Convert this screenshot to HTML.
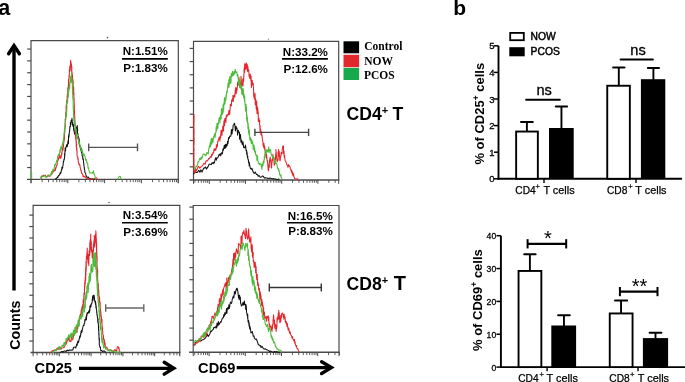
<!DOCTYPE html><html><head><meta charset="utf-8"><style>html,body{margin:0;padding:0;background:#fff;}svg{display:block;will-change:transform;}</style></head><body>
<svg width="685" height="382" viewBox="0 0 685 382">
<rect width="685" height="382" fill="#fff"/>
<text x="-1.7" y="14.6" font-family='"Liberation Sans", sans-serif' font-size="21.5" font-weight="bold" text-anchor="start" fill="#000" >a</text>
<text x="453.3" y="14.9" font-family='"Liberation Sans", sans-serif' font-size="21" font-weight="bold" text-anchor="start" fill="#000" >b</text>
<line x1="14" y1="47" x2="14" y2="290.5" stroke="#000" stroke-width="3.4" stroke-linecap="butt"/>
<path d="M8.6,53.8 L14,45.6 L19.4,53.8" fill="none" stroke="#000" stroke-width="3.4" stroke-linecap="round" stroke-linejoin="miter"/>
<text transform="translate(19.7,349.8) rotate(-90)" font-family='"Liberation Sans", sans-serif' font-size="14.3" font-weight="bold">Counts</text>
<path d="M31,179.4 L31,40.6 L178.3,40.6 L178.3,179.4" fill="none" stroke="#4a4a4a" stroke-width="1.2"/>
<line x1="27" y1="179.4" x2="178.9" y2="179.4" stroke="#4a4a4a" stroke-width="1.4" stroke-linecap="butt"/>
<line x1="27.2" y1="167.55" x2="31" y2="167.55" stroke="#4a4a4a" stroke-width="1.2" stroke-linecap="butt"/>
<line x1="27.2" y1="155.7" x2="31" y2="155.7" stroke="#4a4a4a" stroke-width="1.2" stroke-linecap="butt"/>
<line x1="27.2" y1="143.85" x2="31" y2="143.85" stroke="#4a4a4a" stroke-width="1.2" stroke-linecap="butt"/>
<line x1="27.2" y1="132" x2="31" y2="132" stroke="#4a4a4a" stroke-width="1.2" stroke-linecap="butt"/>
<line x1="27.2" y1="120.15" x2="31" y2="120.15" stroke="#4a4a4a" stroke-width="1.2" stroke-linecap="butt"/>
<line x1="27.2" y1="108.3" x2="31" y2="108.3" stroke="#4a4a4a" stroke-width="1.2" stroke-linecap="butt"/>
<line x1="27.2" y1="96.45" x2="31" y2="96.45" stroke="#4a4a4a" stroke-width="1.2" stroke-linecap="butt"/>
<line x1="27.2" y1="84.6" x2="31" y2="84.6" stroke="#4a4a4a" stroke-width="1.2" stroke-linecap="butt"/>
<line x1="27.2" y1="72.75" x2="31" y2="72.75" stroke="#4a4a4a" stroke-width="1.2" stroke-linecap="butt"/>
<line x1="27.2" y1="60.9" x2="31" y2="60.9" stroke="#4a4a4a" stroke-width="1.2" stroke-linecap="butt"/>
<line x1="27.2" y1="49.05" x2="31" y2="49.05" stroke="#4a4a4a" stroke-width="1.2" stroke-linecap="butt"/>
<line x1="31" y1="179.4" x2="31" y2="183.2" stroke="#4a4a4a" stroke-width="1.0" stroke-linecap="butt"/>
<line x1="42.08" y1="179.4" x2="42.08" y2="182.2" stroke="#4a4a4a" stroke-width="0.9" stroke-linecap="butt"/>
<line x1="48.56" y1="179.4" x2="48.56" y2="182.2" stroke="#4a4a4a" stroke-width="0.9" stroke-linecap="butt"/>
<line x1="53.16" y1="179.4" x2="53.16" y2="182.2" stroke="#4a4a4a" stroke-width="0.9" stroke-linecap="butt"/>
<line x1="56.72" y1="179.4" x2="56.72" y2="182.2" stroke="#4a4a4a" stroke-width="0.9" stroke-linecap="butt"/>
<line x1="59.64" y1="179.4" x2="59.64" y2="182.2" stroke="#4a4a4a" stroke-width="0.9" stroke-linecap="butt"/>
<line x1="62.1" y1="179.4" x2="62.1" y2="182.2" stroke="#4a4a4a" stroke-width="0.9" stroke-linecap="butt"/>
<line x1="64.23" y1="179.4" x2="64.23" y2="182.2" stroke="#4a4a4a" stroke-width="0.9" stroke-linecap="butt"/>
<line x1="66.12" y1="179.4" x2="66.12" y2="182.2" stroke="#4a4a4a" stroke-width="0.9" stroke-linecap="butt"/>
<line x1="67.8" y1="179.4" x2="67.8" y2="183.2" stroke="#4a4a4a" stroke-width="1.0" stroke-linecap="butt"/>
<line x1="78.88" y1="179.4" x2="78.88" y2="182.2" stroke="#4a4a4a" stroke-width="0.9" stroke-linecap="butt"/>
<line x1="85.36" y1="179.4" x2="85.36" y2="182.2" stroke="#4a4a4a" stroke-width="0.9" stroke-linecap="butt"/>
<line x1="89.96" y1="179.4" x2="89.96" y2="182.2" stroke="#4a4a4a" stroke-width="0.9" stroke-linecap="butt"/>
<line x1="93.52" y1="179.4" x2="93.52" y2="182.2" stroke="#4a4a4a" stroke-width="0.9" stroke-linecap="butt"/>
<line x1="96.44" y1="179.4" x2="96.44" y2="182.2" stroke="#4a4a4a" stroke-width="0.9" stroke-linecap="butt"/>
<line x1="98.9" y1="179.4" x2="98.9" y2="182.2" stroke="#4a4a4a" stroke-width="0.9" stroke-linecap="butt"/>
<line x1="101.03" y1="179.4" x2="101.03" y2="182.2" stroke="#4a4a4a" stroke-width="0.9" stroke-linecap="butt"/>
<line x1="102.92" y1="179.4" x2="102.92" y2="182.2" stroke="#4a4a4a" stroke-width="0.9" stroke-linecap="butt"/>
<line x1="104.6" y1="179.4" x2="104.6" y2="183.2" stroke="#4a4a4a" stroke-width="1.0" stroke-linecap="butt"/>
<line x1="115.68" y1="179.4" x2="115.68" y2="182.2" stroke="#4a4a4a" stroke-width="0.9" stroke-linecap="butt"/>
<line x1="122.16" y1="179.4" x2="122.16" y2="182.2" stroke="#4a4a4a" stroke-width="0.9" stroke-linecap="butt"/>
<line x1="126.76" y1="179.4" x2="126.76" y2="182.2" stroke="#4a4a4a" stroke-width="0.9" stroke-linecap="butt"/>
<line x1="130.32" y1="179.4" x2="130.32" y2="182.2" stroke="#4a4a4a" stroke-width="0.9" stroke-linecap="butt"/>
<line x1="133.24" y1="179.4" x2="133.24" y2="182.2" stroke="#4a4a4a" stroke-width="0.9" stroke-linecap="butt"/>
<line x1="135.7" y1="179.4" x2="135.7" y2="182.2" stroke="#4a4a4a" stroke-width="0.9" stroke-linecap="butt"/>
<line x1="137.83" y1="179.4" x2="137.83" y2="182.2" stroke="#4a4a4a" stroke-width="0.9" stroke-linecap="butt"/>
<line x1="139.72" y1="179.4" x2="139.72" y2="182.2" stroke="#4a4a4a" stroke-width="0.9" stroke-linecap="butt"/>
<line x1="141.4" y1="179.4" x2="141.4" y2="183.2" stroke="#4a4a4a" stroke-width="1.0" stroke-linecap="butt"/>
<line x1="152.48" y1="179.4" x2="152.48" y2="182.2" stroke="#4a4a4a" stroke-width="0.9" stroke-linecap="butt"/>
<line x1="158.96" y1="179.4" x2="158.96" y2="182.2" stroke="#4a4a4a" stroke-width="0.9" stroke-linecap="butt"/>
<line x1="163.56" y1="179.4" x2="163.56" y2="182.2" stroke="#4a4a4a" stroke-width="0.9" stroke-linecap="butt"/>
<line x1="167.12" y1="179.4" x2="167.12" y2="182.2" stroke="#4a4a4a" stroke-width="0.9" stroke-linecap="butt"/>
<line x1="170.04" y1="179.4" x2="170.04" y2="182.2" stroke="#4a4a4a" stroke-width="0.9" stroke-linecap="butt"/>
<line x1="172.5" y1="179.4" x2="172.5" y2="182.2" stroke="#4a4a4a" stroke-width="0.9" stroke-linecap="butt"/>
<line x1="174.63" y1="179.4" x2="174.63" y2="182.2" stroke="#4a4a4a" stroke-width="0.9" stroke-linecap="butt"/>
<line x1="176.52" y1="179.4" x2="176.52" y2="182.2" stroke="#4a4a4a" stroke-width="0.9" stroke-linecap="butt"/>
<line x1="178.2" y1="179.4" x2="178.2" y2="183.2" stroke="#4a4a4a" stroke-width="1.0" stroke-linecap="butt"/>
<line x1="178.3" y1="179.4" x2="178.3" y2="183.2" stroke="#4a4a4a" stroke-width="1.0" stroke-linecap="butt"/>
<line x1="31" y1="179.4" x2="31" y2="183.2" stroke="#4a4a4a" stroke-width="1.0" stroke-linecap="butt"/>
<path d="M193.5,180 L193.5,41.4 L338.7,41.4 L338.7,180" fill="none" stroke="#4a4a4a" stroke-width="1.2"/>
<line x1="189.5" y1="180" x2="339.3" y2="180" stroke="#4a4a4a" stroke-width="1.4" stroke-linecap="butt"/>
<line x1="189.7" y1="166.84" x2="193.5" y2="166.84" stroke="#4a4a4a" stroke-width="1.2" stroke-linecap="butt"/>
<line x1="189.7" y1="153.68" x2="193.5" y2="153.68" stroke="#4a4a4a" stroke-width="1.2" stroke-linecap="butt"/>
<line x1="189.7" y1="140.52" x2="193.5" y2="140.52" stroke="#4a4a4a" stroke-width="1.2" stroke-linecap="butt"/>
<line x1="189.7" y1="127.36" x2="193.5" y2="127.36" stroke="#4a4a4a" stroke-width="1.2" stroke-linecap="butt"/>
<line x1="189.7" y1="114.2" x2="193.5" y2="114.2" stroke="#4a4a4a" stroke-width="1.2" stroke-linecap="butt"/>
<line x1="189.7" y1="101.04" x2="193.5" y2="101.04" stroke="#4a4a4a" stroke-width="1.2" stroke-linecap="butt"/>
<line x1="189.7" y1="87.88" x2="193.5" y2="87.88" stroke="#4a4a4a" stroke-width="1.2" stroke-linecap="butt"/>
<line x1="189.7" y1="74.72" x2="193.5" y2="74.72" stroke="#4a4a4a" stroke-width="1.2" stroke-linecap="butt"/>
<line x1="189.7" y1="61.56" x2="193.5" y2="61.56" stroke="#4a4a4a" stroke-width="1.2" stroke-linecap="butt"/>
<line x1="189.7" y1="48.4" x2="193.5" y2="48.4" stroke="#4a4a4a" stroke-width="1.2" stroke-linecap="butt"/>
<line x1="194.89" y1="180" x2="194.89" y2="182.8" stroke="#4a4a4a" stroke-width="0.9" stroke-linecap="butt"/>
<line x1="198.4" y1="180" x2="198.4" y2="182.8" stroke="#4a4a4a" stroke-width="0.9" stroke-linecap="butt"/>
<line x1="201.27" y1="180" x2="201.27" y2="182.8" stroke="#4a4a4a" stroke-width="0.9" stroke-linecap="butt"/>
<line x1="203.69" y1="180" x2="203.69" y2="182.8" stroke="#4a4a4a" stroke-width="0.9" stroke-linecap="butt"/>
<line x1="205.79" y1="180" x2="205.79" y2="182.8" stroke="#4a4a4a" stroke-width="0.9" stroke-linecap="butt"/>
<line x1="207.64" y1="180" x2="207.64" y2="182.8" stroke="#4a4a4a" stroke-width="0.9" stroke-linecap="butt"/>
<line x1="209.3" y1="180" x2="209.3" y2="183.8" stroke="#4a4a4a" stroke-width="1.0" stroke-linecap="butt"/>
<line x1="220.2" y1="180" x2="220.2" y2="182.8" stroke="#4a4a4a" stroke-width="0.9" stroke-linecap="butt"/>
<line x1="226.57" y1="180" x2="226.57" y2="182.8" stroke="#4a4a4a" stroke-width="0.9" stroke-linecap="butt"/>
<line x1="231.09" y1="180" x2="231.09" y2="182.8" stroke="#4a4a4a" stroke-width="0.9" stroke-linecap="butt"/>
<line x1="234.6" y1="180" x2="234.6" y2="182.8" stroke="#4a4a4a" stroke-width="0.9" stroke-linecap="butt"/>
<line x1="237.47" y1="180" x2="237.47" y2="182.8" stroke="#4a4a4a" stroke-width="0.9" stroke-linecap="butt"/>
<line x1="239.89" y1="180" x2="239.89" y2="182.8" stroke="#4a4a4a" stroke-width="0.9" stroke-linecap="butt"/>
<line x1="241.99" y1="180" x2="241.99" y2="182.8" stroke="#4a4a4a" stroke-width="0.9" stroke-linecap="butt"/>
<line x1="243.84" y1="180" x2="243.84" y2="182.8" stroke="#4a4a4a" stroke-width="0.9" stroke-linecap="butt"/>
<line x1="245.5" y1="180" x2="245.5" y2="183.8" stroke="#4a4a4a" stroke-width="1.0" stroke-linecap="butt"/>
<line x1="256.4" y1="180" x2="256.4" y2="182.8" stroke="#4a4a4a" stroke-width="0.9" stroke-linecap="butt"/>
<line x1="262.77" y1="180" x2="262.77" y2="182.8" stroke="#4a4a4a" stroke-width="0.9" stroke-linecap="butt"/>
<line x1="267.29" y1="180" x2="267.29" y2="182.8" stroke="#4a4a4a" stroke-width="0.9" stroke-linecap="butt"/>
<line x1="270.8" y1="180" x2="270.8" y2="182.8" stroke="#4a4a4a" stroke-width="0.9" stroke-linecap="butt"/>
<line x1="273.67" y1="180" x2="273.67" y2="182.8" stroke="#4a4a4a" stroke-width="0.9" stroke-linecap="butt"/>
<line x1="276.09" y1="180" x2="276.09" y2="182.8" stroke="#4a4a4a" stroke-width="0.9" stroke-linecap="butt"/>
<line x1="278.19" y1="180" x2="278.19" y2="182.8" stroke="#4a4a4a" stroke-width="0.9" stroke-linecap="butt"/>
<line x1="280.04" y1="180" x2="280.04" y2="182.8" stroke="#4a4a4a" stroke-width="0.9" stroke-linecap="butt"/>
<line x1="281.7" y1="180" x2="281.7" y2="183.8" stroke="#4a4a4a" stroke-width="1.0" stroke-linecap="butt"/>
<line x1="292.6" y1="180" x2="292.6" y2="182.8" stroke="#4a4a4a" stroke-width="0.9" stroke-linecap="butt"/>
<line x1="298.97" y1="180" x2="298.97" y2="182.8" stroke="#4a4a4a" stroke-width="0.9" stroke-linecap="butt"/>
<line x1="303.49" y1="180" x2="303.49" y2="182.8" stroke="#4a4a4a" stroke-width="0.9" stroke-linecap="butt"/>
<line x1="307" y1="180" x2="307" y2="182.8" stroke="#4a4a4a" stroke-width="0.9" stroke-linecap="butt"/>
<line x1="309.87" y1="180" x2="309.87" y2="182.8" stroke="#4a4a4a" stroke-width="0.9" stroke-linecap="butt"/>
<line x1="312.29" y1="180" x2="312.29" y2="182.8" stroke="#4a4a4a" stroke-width="0.9" stroke-linecap="butt"/>
<line x1="314.39" y1="180" x2="314.39" y2="182.8" stroke="#4a4a4a" stroke-width="0.9" stroke-linecap="butt"/>
<line x1="316.24" y1="180" x2="316.24" y2="182.8" stroke="#4a4a4a" stroke-width="0.9" stroke-linecap="butt"/>
<line x1="317.9" y1="180" x2="317.9" y2="183.8" stroke="#4a4a4a" stroke-width="1.0" stroke-linecap="butt"/>
<line x1="328.8" y1="180" x2="328.8" y2="182.8" stroke="#4a4a4a" stroke-width="0.9" stroke-linecap="butt"/>
<line x1="335.17" y1="180" x2="335.17" y2="182.8" stroke="#4a4a4a" stroke-width="0.9" stroke-linecap="butt"/>
<line x1="338.7" y1="180" x2="338.7" y2="183.8" stroke="#4a4a4a" stroke-width="1.0" stroke-linecap="butt"/>
<line x1="193.5" y1="180" x2="193.5" y2="183.8" stroke="#4a4a4a" stroke-width="1.0" stroke-linecap="butt"/>
<path d="M33.1,352.5 L33.1,205.4 L179.8,205.4 L179.8,352.5" fill="none" stroke="#4a4a4a" stroke-width="1.2"/>
<line x1="30.5" y1="352.5" x2="180.4" y2="352.5" stroke="#4a4a4a" stroke-width="1.4" stroke-linecap="butt"/>
<line x1="29.3" y1="341.05" x2="33.1" y2="341.05" stroke="#4a4a4a" stroke-width="1.2" stroke-linecap="butt"/>
<line x1="29.3" y1="329.6" x2="33.1" y2="329.6" stroke="#4a4a4a" stroke-width="1.2" stroke-linecap="butt"/>
<line x1="29.3" y1="318.15" x2="33.1" y2="318.15" stroke="#4a4a4a" stroke-width="1.2" stroke-linecap="butt"/>
<line x1="29.3" y1="306.7" x2="33.1" y2="306.7" stroke="#4a4a4a" stroke-width="1.2" stroke-linecap="butt"/>
<line x1="29.3" y1="295.25" x2="33.1" y2="295.25" stroke="#4a4a4a" stroke-width="1.2" stroke-linecap="butt"/>
<line x1="29.3" y1="283.8" x2="33.1" y2="283.8" stroke="#4a4a4a" stroke-width="1.2" stroke-linecap="butt"/>
<line x1="29.3" y1="272.35" x2="33.1" y2="272.35" stroke="#4a4a4a" stroke-width="1.2" stroke-linecap="butt"/>
<line x1="29.3" y1="260.9" x2="33.1" y2="260.9" stroke="#4a4a4a" stroke-width="1.2" stroke-linecap="butt"/>
<line x1="29.3" y1="249.45" x2="33.1" y2="249.45" stroke="#4a4a4a" stroke-width="1.2" stroke-linecap="butt"/>
<line x1="29.3" y1="238" x2="33.1" y2="238" stroke="#4a4a4a" stroke-width="1.2" stroke-linecap="butt"/>
<line x1="29.3" y1="226.55" x2="33.1" y2="226.55" stroke="#4a4a4a" stroke-width="1.2" stroke-linecap="butt"/>
<line x1="29.3" y1="215.1" x2="33.1" y2="215.1" stroke="#4a4a4a" stroke-width="1.2" stroke-linecap="butt"/>
<line x1="37.07" y1="352.5" x2="37.07" y2="355.3" stroke="#4a4a4a" stroke-width="0.9" stroke-linecap="butt"/>
<line x1="42.67" y1="352.5" x2="42.67" y2="355.3" stroke="#4a4a4a" stroke-width="0.9" stroke-linecap="butt"/>
<line x1="46.65" y1="352.5" x2="46.65" y2="355.3" stroke="#4a4a4a" stroke-width="0.9" stroke-linecap="butt"/>
<line x1="49.73" y1="352.5" x2="49.73" y2="355.3" stroke="#4a4a4a" stroke-width="0.9" stroke-linecap="butt"/>
<line x1="52.25" y1="352.5" x2="52.25" y2="355.3" stroke="#4a4a4a" stroke-width="0.9" stroke-linecap="butt"/>
<line x1="54.37" y1="352.5" x2="54.37" y2="355.3" stroke="#4a4a4a" stroke-width="0.9" stroke-linecap="butt"/>
<line x1="56.22" y1="352.5" x2="56.22" y2="355.3" stroke="#4a4a4a" stroke-width="0.9" stroke-linecap="butt"/>
<line x1="57.84" y1="352.5" x2="57.84" y2="355.3" stroke="#4a4a4a" stroke-width="0.9" stroke-linecap="butt"/>
<line x1="59.3" y1="352.5" x2="59.3" y2="356.3" stroke="#4a4a4a" stroke-width="1.0" stroke-linecap="butt"/>
<line x1="68.87" y1="352.5" x2="68.87" y2="355.3" stroke="#4a4a4a" stroke-width="0.9" stroke-linecap="butt"/>
<line x1="74.47" y1="352.5" x2="74.47" y2="355.3" stroke="#4a4a4a" stroke-width="0.9" stroke-linecap="butt"/>
<line x1="78.45" y1="352.5" x2="78.45" y2="355.3" stroke="#4a4a4a" stroke-width="0.9" stroke-linecap="butt"/>
<line x1="81.53" y1="352.5" x2="81.53" y2="355.3" stroke="#4a4a4a" stroke-width="0.9" stroke-linecap="butt"/>
<line x1="84.05" y1="352.5" x2="84.05" y2="355.3" stroke="#4a4a4a" stroke-width="0.9" stroke-linecap="butt"/>
<line x1="86.17" y1="352.5" x2="86.17" y2="355.3" stroke="#4a4a4a" stroke-width="0.9" stroke-linecap="butt"/>
<line x1="88.02" y1="352.5" x2="88.02" y2="355.3" stroke="#4a4a4a" stroke-width="0.9" stroke-linecap="butt"/>
<line x1="89.64" y1="352.5" x2="89.64" y2="355.3" stroke="#4a4a4a" stroke-width="0.9" stroke-linecap="butt"/>
<line x1="91.1" y1="352.5" x2="91.1" y2="356.3" stroke="#4a4a4a" stroke-width="1.0" stroke-linecap="butt"/>
<line x1="100.67" y1="352.5" x2="100.67" y2="355.3" stroke="#4a4a4a" stroke-width="0.9" stroke-linecap="butt"/>
<line x1="106.27" y1="352.5" x2="106.27" y2="355.3" stroke="#4a4a4a" stroke-width="0.9" stroke-linecap="butt"/>
<line x1="110.25" y1="352.5" x2="110.25" y2="355.3" stroke="#4a4a4a" stroke-width="0.9" stroke-linecap="butt"/>
<line x1="113.33" y1="352.5" x2="113.33" y2="355.3" stroke="#4a4a4a" stroke-width="0.9" stroke-linecap="butt"/>
<line x1="115.85" y1="352.5" x2="115.85" y2="355.3" stroke="#4a4a4a" stroke-width="0.9" stroke-linecap="butt"/>
<line x1="117.97" y1="352.5" x2="117.97" y2="355.3" stroke="#4a4a4a" stroke-width="0.9" stroke-linecap="butt"/>
<line x1="119.82" y1="352.5" x2="119.82" y2="355.3" stroke="#4a4a4a" stroke-width="0.9" stroke-linecap="butt"/>
<line x1="121.44" y1="352.5" x2="121.44" y2="355.3" stroke="#4a4a4a" stroke-width="0.9" stroke-linecap="butt"/>
<line x1="122.9" y1="352.5" x2="122.9" y2="356.3" stroke="#4a4a4a" stroke-width="1.0" stroke-linecap="butt"/>
<line x1="132.47" y1="352.5" x2="132.47" y2="355.3" stroke="#4a4a4a" stroke-width="0.9" stroke-linecap="butt"/>
<line x1="138.07" y1="352.5" x2="138.07" y2="355.3" stroke="#4a4a4a" stroke-width="0.9" stroke-linecap="butt"/>
<line x1="142.05" y1="352.5" x2="142.05" y2="355.3" stroke="#4a4a4a" stroke-width="0.9" stroke-linecap="butt"/>
<line x1="145.13" y1="352.5" x2="145.13" y2="355.3" stroke="#4a4a4a" stroke-width="0.9" stroke-linecap="butt"/>
<line x1="147.65" y1="352.5" x2="147.65" y2="355.3" stroke="#4a4a4a" stroke-width="0.9" stroke-linecap="butt"/>
<line x1="149.77" y1="352.5" x2="149.77" y2="355.3" stroke="#4a4a4a" stroke-width="0.9" stroke-linecap="butt"/>
<line x1="151.62" y1="352.5" x2="151.62" y2="355.3" stroke="#4a4a4a" stroke-width="0.9" stroke-linecap="butt"/>
<line x1="153.24" y1="352.5" x2="153.24" y2="355.3" stroke="#4a4a4a" stroke-width="0.9" stroke-linecap="butt"/>
<line x1="154.7" y1="352.5" x2="154.7" y2="356.3" stroke="#4a4a4a" stroke-width="1.0" stroke-linecap="butt"/>
<line x1="164.27" y1="352.5" x2="164.27" y2="355.3" stroke="#4a4a4a" stroke-width="0.9" stroke-linecap="butt"/>
<line x1="169.87" y1="352.5" x2="169.87" y2="355.3" stroke="#4a4a4a" stroke-width="0.9" stroke-linecap="butt"/>
<line x1="173.85" y1="352.5" x2="173.85" y2="355.3" stroke="#4a4a4a" stroke-width="0.9" stroke-linecap="butt"/>
<line x1="176.93" y1="352.5" x2="176.93" y2="355.3" stroke="#4a4a4a" stroke-width="0.9" stroke-linecap="butt"/>
<line x1="179.45" y1="352.5" x2="179.45" y2="355.3" stroke="#4a4a4a" stroke-width="0.9" stroke-linecap="butt"/>
<line x1="179.8" y1="352.5" x2="179.8" y2="356.3" stroke="#4a4a4a" stroke-width="1.0" stroke-linecap="butt"/>
<line x1="33.1" y1="352.5" x2="33.1" y2="356.3" stroke="#4a4a4a" stroke-width="1.0" stroke-linecap="butt"/>
<path d="M193.2,352.3 L193.2,205.5 L339,205.5 L339,352.3" fill="none" stroke="#4a4a4a" stroke-width="1.2"/>
<line x1="189.1" y1="352.3" x2="339.6" y2="352.3" stroke="#4a4a4a" stroke-width="1.4" stroke-linecap="butt"/>
<line x1="189.4" y1="340.2" x2="193.2" y2="340.2" stroke="#4a4a4a" stroke-width="1.2" stroke-linecap="butt"/>
<line x1="189.4" y1="328.1" x2="193.2" y2="328.1" stroke="#4a4a4a" stroke-width="1.2" stroke-linecap="butt"/>
<line x1="189.4" y1="316" x2="193.2" y2="316" stroke="#4a4a4a" stroke-width="1.2" stroke-linecap="butt"/>
<line x1="189.4" y1="303.9" x2="193.2" y2="303.9" stroke="#4a4a4a" stroke-width="1.2" stroke-linecap="butt"/>
<line x1="189.4" y1="291.8" x2="193.2" y2="291.8" stroke="#4a4a4a" stroke-width="1.2" stroke-linecap="butt"/>
<line x1="189.4" y1="279.7" x2="193.2" y2="279.7" stroke="#4a4a4a" stroke-width="1.2" stroke-linecap="butt"/>
<line x1="189.4" y1="267.6" x2="193.2" y2="267.6" stroke="#4a4a4a" stroke-width="1.2" stroke-linecap="butt"/>
<line x1="189.4" y1="255.5" x2="193.2" y2="255.5" stroke="#4a4a4a" stroke-width="1.2" stroke-linecap="butt"/>
<line x1="189.4" y1="243.4" x2="193.2" y2="243.4" stroke="#4a4a4a" stroke-width="1.2" stroke-linecap="butt"/>
<line x1="189.4" y1="231.3" x2="193.2" y2="231.3" stroke="#4a4a4a" stroke-width="1.2" stroke-linecap="butt"/>
<line x1="189.4" y1="219.2" x2="193.2" y2="219.2" stroke="#4a4a4a" stroke-width="1.2" stroke-linecap="butt"/>
<line x1="189.4" y1="207.1" x2="193.2" y2="207.1" stroke="#4a4a4a" stroke-width="1.2" stroke-linecap="butt"/>
<line x1="194.69" y1="352.3" x2="194.69" y2="355.1" stroke="#4a4a4a" stroke-width="0.9" stroke-linecap="butt"/>
<line x1="198.2" y1="352.3" x2="198.2" y2="355.1" stroke="#4a4a4a" stroke-width="0.9" stroke-linecap="butt"/>
<line x1="201.07" y1="352.3" x2="201.07" y2="355.1" stroke="#4a4a4a" stroke-width="0.9" stroke-linecap="butt"/>
<line x1="203.49" y1="352.3" x2="203.49" y2="355.1" stroke="#4a4a4a" stroke-width="0.9" stroke-linecap="butt"/>
<line x1="205.59" y1="352.3" x2="205.59" y2="355.1" stroke="#4a4a4a" stroke-width="0.9" stroke-linecap="butt"/>
<line x1="207.44" y1="352.3" x2="207.44" y2="355.1" stroke="#4a4a4a" stroke-width="0.9" stroke-linecap="butt"/>
<line x1="209.1" y1="352.3" x2="209.1" y2="356.1" stroke="#4a4a4a" stroke-width="1.0" stroke-linecap="butt"/>
<line x1="220" y1="352.3" x2="220" y2="355.1" stroke="#4a4a4a" stroke-width="0.9" stroke-linecap="butt"/>
<line x1="226.37" y1="352.3" x2="226.37" y2="355.1" stroke="#4a4a4a" stroke-width="0.9" stroke-linecap="butt"/>
<line x1="230.89" y1="352.3" x2="230.89" y2="355.1" stroke="#4a4a4a" stroke-width="0.9" stroke-linecap="butt"/>
<line x1="234.4" y1="352.3" x2="234.4" y2="355.1" stroke="#4a4a4a" stroke-width="0.9" stroke-linecap="butt"/>
<line x1="237.27" y1="352.3" x2="237.27" y2="355.1" stroke="#4a4a4a" stroke-width="0.9" stroke-linecap="butt"/>
<line x1="239.69" y1="352.3" x2="239.69" y2="355.1" stroke="#4a4a4a" stroke-width="0.9" stroke-linecap="butt"/>
<line x1="241.79" y1="352.3" x2="241.79" y2="355.1" stroke="#4a4a4a" stroke-width="0.9" stroke-linecap="butt"/>
<line x1="243.64" y1="352.3" x2="243.64" y2="355.1" stroke="#4a4a4a" stroke-width="0.9" stroke-linecap="butt"/>
<line x1="245.3" y1="352.3" x2="245.3" y2="356.1" stroke="#4a4a4a" stroke-width="1.0" stroke-linecap="butt"/>
<line x1="256.2" y1="352.3" x2="256.2" y2="355.1" stroke="#4a4a4a" stroke-width="0.9" stroke-linecap="butt"/>
<line x1="262.57" y1="352.3" x2="262.57" y2="355.1" stroke="#4a4a4a" stroke-width="0.9" stroke-linecap="butt"/>
<line x1="267.09" y1="352.3" x2="267.09" y2="355.1" stroke="#4a4a4a" stroke-width="0.9" stroke-linecap="butt"/>
<line x1="270.6" y1="352.3" x2="270.6" y2="355.1" stroke="#4a4a4a" stroke-width="0.9" stroke-linecap="butt"/>
<line x1="273.47" y1="352.3" x2="273.47" y2="355.1" stroke="#4a4a4a" stroke-width="0.9" stroke-linecap="butt"/>
<line x1="275.89" y1="352.3" x2="275.89" y2="355.1" stroke="#4a4a4a" stroke-width="0.9" stroke-linecap="butt"/>
<line x1="277.99" y1="352.3" x2="277.99" y2="355.1" stroke="#4a4a4a" stroke-width="0.9" stroke-linecap="butt"/>
<line x1="279.84" y1="352.3" x2="279.84" y2="355.1" stroke="#4a4a4a" stroke-width="0.9" stroke-linecap="butt"/>
<line x1="281.5" y1="352.3" x2="281.5" y2="356.1" stroke="#4a4a4a" stroke-width="1.0" stroke-linecap="butt"/>
<line x1="292.4" y1="352.3" x2="292.4" y2="355.1" stroke="#4a4a4a" stroke-width="0.9" stroke-linecap="butt"/>
<line x1="298.77" y1="352.3" x2="298.77" y2="355.1" stroke="#4a4a4a" stroke-width="0.9" stroke-linecap="butt"/>
<line x1="303.29" y1="352.3" x2="303.29" y2="355.1" stroke="#4a4a4a" stroke-width="0.9" stroke-linecap="butt"/>
<line x1="306.8" y1="352.3" x2="306.8" y2="355.1" stroke="#4a4a4a" stroke-width="0.9" stroke-linecap="butt"/>
<line x1="309.67" y1="352.3" x2="309.67" y2="355.1" stroke="#4a4a4a" stroke-width="0.9" stroke-linecap="butt"/>
<line x1="312.09" y1="352.3" x2="312.09" y2="355.1" stroke="#4a4a4a" stroke-width="0.9" stroke-linecap="butt"/>
<line x1="314.19" y1="352.3" x2="314.19" y2="355.1" stroke="#4a4a4a" stroke-width="0.9" stroke-linecap="butt"/>
<line x1="316.04" y1="352.3" x2="316.04" y2="355.1" stroke="#4a4a4a" stroke-width="0.9" stroke-linecap="butt"/>
<line x1="317.7" y1="352.3" x2="317.7" y2="356.1" stroke="#4a4a4a" stroke-width="1.0" stroke-linecap="butt"/>
<line x1="328.6" y1="352.3" x2="328.6" y2="355.1" stroke="#4a4a4a" stroke-width="0.9" stroke-linecap="butt"/>
<line x1="334.97" y1="352.3" x2="334.97" y2="355.1" stroke="#4a4a4a" stroke-width="0.9" stroke-linecap="butt"/>
<line x1="339.49" y1="352.3" x2="339.49" y2="355.1" stroke="#4a4a4a" stroke-width="0.9" stroke-linecap="butt"/>
<line x1="339" y1="352.3" x2="339" y2="356.1" stroke="#4a4a4a" stroke-width="1.0" stroke-linecap="butt"/>
<line x1="193.2" y1="352.3" x2="193.2" y2="356.1" stroke="#4a4a4a" stroke-width="1.0" stroke-linecap="butt"/>
<line x1="31.6" y1="172" x2="31.6" y2="179" stroke="#4cba3a" stroke-width="1.1" stroke-linecap="butt"/>
<path d="M55,179.4 L55.73,178.82 L56.61,178.29 L57.55,176.77 L57.87,177.4 L58.54,175.49 L59.4,175.24 L59.79,174.3 L60.18,172.55 L60.63,173.45 L61.05,172.21 L61.57,169.33 L61.82,169.97 L61.86,167.31 L62.3,167.78 L62.46,168.23 L62.68,167.5 L62.77,166.21 L63.01,165.82 L63.4,161.83 L63.32,161.34 L63.87,161.26 L63.95,159.81 L64.01,159.18 L64.06,159.03 L64.26,159.43 L64.41,158.6 L64.59,157.95 L64.63,153.34 L64.81,155.98 L64.94,153.24 L64.98,150.61 L65.13,151.35 L65.15,147.73 L65.61,151.07 L65.54,149 L66.76,144.63 L67.22,146.73 L67.95,141.93 L68.01,140.84 L68.21,141.28 L68.43,143.72 L68.44,142.79 L68.52,136.65 L68.73,135.45 L68.66,136.63 L68.91,134.27 L68.77,137.43 L68.97,137.06 L69.29,132.75 L69.21,132.66 L69.37,132.19 L69.42,131.42 L69.78,129.7 L69.77,129.97 L69.9,126.35 L70.39,126.67 L70.42,122.42 L70.63,125.12 L70.74,124.47 L71.25,120.01 L71.52,121.75 L71.81,120.12 L72.08,121.77 L71.99,118.26 L72.43,125.07 L72.43,122.72 L72.75,122.78 L72.83,123.68 L73.01,126.4 L73.16,125.97 L73.53,124.74 L73.63,130.04 L73.67,127.81 L74.01,128.82 L73.9,130.91 L74.25,129.83 L74.24,132.12 L74.59,133.64 L74.74,132.99 L74.93,134.73 L75.55,132.51 L75.69,129.49 L76.21,128.84 L76.57,131.71 L76.57,127.24 L77.07,128.43 L77.32,125.53 L77.11,126.14 L77.43,126.96 L77.31,128.79 L77.39,129.69 L77.65,129.1 L77.34,134.74 L77.74,135.9 L77.62,136.6 L77.87,133.29 L78.02,137.87 L78.21,137.09 L78.28,137.13 L78.47,136.67 L78.84,138.93 L79.12,138.7 L79.36,143.25 L79.57,145.37 L79.76,144.74 L79.61,146.66 L80.07,145.44 L80.67,147.62 L80.97,150.71 L81.44,148.83 L81.46,152.27 L81.72,152.82 L81.83,151.03 L82.07,154.83 L82.09,155.64 L82.55,156.63 L82.67,154.08 L82.76,158.71 L82.69,157.15 L82.94,159.17 L83.17,159.89 L83.45,158.99 L83.3,160.47 L83.47,161.24 L83.94,165.12 L83.73,164.78 L83.96,165.08 L84.11,167.17 L84.34,167.18 L84.32,168.04 L84.43,169.71 L84.81,170.14 L84.69,170.55 L84.95,172.68 L85.49,173.13 L85.87,174.74 L86.1,175.2 L86.5,176.89 L87.34,177.35 L88.23,177.07 L89.14,178.3 L89.83,178.4 L90.97,179.16 L92.17,178.71 L93.16,179.35 L93.9,179.19 L95,179.4" fill="none" stroke="#111" stroke-width="1.05" stroke-linejoin="round"/>
<path d="M41,179.4 L41.02,178.79 L41.44,176.77 L41.5,176 L42.46,176.66 L43.14,175.11 L44.33,175.9 L45.2,175.01 L45.98,176.45 L46.89,176.95 L48.16,175.16 L48.81,176.23 L50.18,175.96 L50.55,175.3 L51.14,174.1 L51.98,173.99 L52.49,172.52 L53.09,172.29 L53.72,170.27 L54.54,170.96 L55.06,169.06 L55.48,170.26 L55.42,167.75 L55.95,168.12 L56.32,166.31 L56.56,166.31 L56.64,165.17 L57.15,165.26 L57.25,163.43 L57.3,161.22 L57.85,160.97 L57.85,160.59 L58.3,160.21 L58.42,158.35 L58.71,158.88 L58.96,156.34 L59.2,153.84 L59.67,157.82 L60.69,158.39 L60.71,155.59 L61,158.1 L61.36,155.18 L61.64,152.79 L61.76,155.08 L62.03,151.81 L62.14,151.23 L62.64,147.62 L62.8,150.57 L63.07,149.19 L63.27,147.09 L63.4,145.62 L63.42,146.91 L63.72,142.52 L63.79,143.09 L63.82,141.43 L63.98,142 L64.1,140.19 L63.96,138.01 L64.11,139.05 L64.48,139.35 L64.54,138.55 L64.42,137.79 L64.68,132.5 L64.51,131.16 L64.85,131.62 L64.64,132.93 L64.78,128.7 L64.75,130.55 L64.81,128.09 L65.07,128.29 L64.96,127.5 L64.89,126.05 L65.1,123.89 L65.02,127.49 L65.23,122.19 L65.31,125.18 L65.13,119.11 L65.23,122.76 L65.28,121.77 L65.53,119.82 L65.4,121.79 L65.68,117.83 L65.49,117.81 L65.61,116.42 L65.63,115.9 L65.6,112.7 L66.03,115.78 L65.84,114.77 L65.92,114.45 L66.16,109.86 L66.04,106.06 L66.36,105.34 L66.41,111.05 L66.38,104.44 L66.57,109.35 L66.58,105.06 L66.54,102.97 L66.56,104.47 L66.75,100 L66.71,102.6 L66.87,100.45 L66.98,102.35 L67.3,94.98 L67.11,96.41 L67.51,98.99 L67.34,93.7 L67.57,97.62 L67.76,92.88 L67.83,94.65 L67.77,96.09 L67.76,93.14 L67.79,87.83 L68.21,87.26 L68.24,89.44 L68.36,86.67 L68.25,85.13 L68.56,86.75 L68.68,88.16 L68.43,84.49 L68.48,79.35 L68.54,85.24 L68.9,84.01 L68.79,81.32 L69.04,78.41 L69.03,76.18 L68.9,75.6 L69.3,77.19 L69.38,75.35 L69.2,77.24 L69.49,69.67 L69.5,69.41 L69.35,75.33 L69.44,68.8 L69.94,69.44 L69.71,66.28 L69.89,70.41 L69.95,70.96 L70.18,70.57 L70.52,63.63 L70.38,64.33 L70.44,64.96 L70.64,60.33 L71.24,63.98 L71.31,66.46 L71.43,64.15 L71.76,73.03 L71.87,66.42 L71.66,71.75 L72.06,72.01 L72.03,73.94 L71.95,73.81 L72.06,72.19 L72.06,73.4 L72.51,75.74 L72.47,78.31 L72.68,77.08 L72.51,77.48 L72.6,82.77 L72.92,79.16 L72.79,82.1 L72.98,83.46 L72.93,79.66 L73.02,81.04 L73.23,81.97 L73.13,87.5 L73.26,89.66 L73.39,91.12 L73.3,89.13 L73.6,86.66 L73.71,88.35 L73.69,95.66 L73.76,91.33 L73.52,93.77 L73.89,92.96 L73.92,92.7 L73.98,92.77 L73.79,100.36 L74.03,101.28 L74.09,100.96 L74.08,97.58 L74.01,98.38 L74.16,103.12 L74.01,99.59 L74.34,106.02 L74.21,104.99 L74.37,105.29 L74.22,105.39 L74.2,104.08 L74.4,107.84 L74.4,106.26 L74.35,107.76 L74.3,109.56 L74.62,111.47 L74.49,113.9 L74.46,110.67 L74.61,115.01 L74.71,115.49 L74.77,118.38 L74.65,117.69 L74.79,116.8 L74.81,119.95 L75.06,123.2 L74.86,122.32 L74.82,119.5 L75.05,125.61 L74.96,125.79 L75.3,123.81 L75.28,128.1 L75.2,128.07 L75.39,128.31 L75.49,131.07 L75.58,129.98 L75.32,128.95 L75.39,131.78 L75.65,129.61 L75.67,134.46 L75.59,134.18 L75.57,136.33 L75.58,138.67 L75.96,137.55 L75.81,140.05 L76.16,136.63 L76.15,141.43 L76.17,141.55 L76.16,143.65 L76.43,141.64 L76.43,142.83 L76.25,143.18 L76.3,147.11 L76.7,143.97 L76.63,146.36 L76.5,146.71 L76.62,149.86 L76.59,148.04 L76.83,148.16 L76.98,151.86 L77.13,150.91 L76.98,153.38 L77.04,154.48 L77.1,155.82 L77.52,157.24 L77.79,156.97 L77.8,159.17 L78.11,158.85 L78.15,158.56 L78.24,161.56 L78.45,162.19 L78.82,163.89 L79.1,164.78 L79.08,163.88 L79.48,164.07 L79.68,165.13 L79.91,164.81 L80.1,167.21 L80.27,167.93 L80.69,169.69 L80.8,170.44 L81.07,170.01 L81.23,171.1 L81.78,173.58 L82.19,173.46 L82.57,174.2 L82.82,174.94 L83.1,176.99 L83.67,175.87 L84.55,177.06 L85.19,176.67 L85.96,177.89 L86.96,178.75 L88.03,178.78 L89.16,179.01 L90,179.21 L91.06,179.31 L92.05,179.34 L93.05,179.08 L94.17,178.83 L95.14,178.38 L96.13,177.68 L96.61,177.79 L97.42,179.22 L98,179.4" fill="none" stroke="#e4262c" stroke-width="1.05" stroke-linejoin="round"/>
<path d="M40,179.4 L40.68,179.09 L40.82,176.7 L41.63,177 L42.47,176.05 L43.34,176.65 L44.23,175.65 L45.07,176.11 L46.09,177.37 L47.25,176.32 L48.13,175.64 L49.04,175.03 L50.29,175.59 L50.65,176.06 L51.11,174.36 L51.39,171.97 L51.83,171.33 L52.3,173.05 L52.77,169.57 L53.22,170.68 L53.51,170.18 L53.89,168.89 L54.08,168.72 L54.68,164.69 L54.94,165.89 L55.16,164.2 L55.52,164.9 L55.86,163.58 L56.14,162.88 L56.74,160.16 L56.99,161.39 L57.44,158.54 L57.62,156.9 L58.2,155.26 L58.66,154.86 L58.96,154.05 L59.28,155.05 L59.4,153.09 L59.76,152.46 L59.92,149.44 L60.3,152.35 L60.92,146.66 L61.56,149.26 L62.16,145.25 L62.31,143.47 L62.49,143.68 L62.53,146.21 L62.7,143.13 L63.21,140.46 L63.17,143.32 L63.47,141.34 L63.43,138.22 L63.6,139.24 L63.68,140.13 L63.77,137.78 L63.89,133.8 L64.32,132.21 L64.18,134.81 L64.38,129.56 L64.73,129.34 L64.47,129.71 L64.82,131.51 L64.73,127.8 L64.81,127.64 L65.19,128.76 L65.33,127.95 L65.4,126.68 L65.33,122.31 L65.49,122.02 L65.36,122.05 L65.75,118.76 L65.72,119.78 L65.78,116.98 L66.04,116.9 L65.99,117.18 L65.84,117.3 L65.97,112.52 L66.01,112.38 L66.12,115.11 L66.37,116.91 L66.62,116.09 L66.42,110.81 L66.51,111.04 L66.74,111.79 L66.85,106.47 L66.82,107.71 L66.73,102.76 L66.98,102.42 L67.18,102.54 L67.01,101.1 L67.15,100.44 L67.35,101.58 L67.34,102.14 L67.38,103.46 L67.81,101.04 L67.72,98.27 L67.91,93.37 L67.97,96.55 L68,91.86 L68.37,93.32 L68.38,97.31 L68.54,90.8 L68.82,90.61 L68.56,92.49 L68.72,88.17 L69.14,90.56 L68.96,87.66 L69.26,87.07 L69.33,87.11 L69.43,83.41 L69.7,88.53 L69.73,85.97 L69.93,83.37 L70.16,81.45 L70.45,79.91 L70.35,76.42 L70.63,82.33 L71.16,82.39 L71.48,72.44 L71.62,80.65 L71.81,78.98 L71.82,79.59 L72.16,78.82 L72.21,81.79 L72.42,85.74 L72.45,86.92 L72.24,82.22 L72.36,83.38 L72.37,88.14 L72.61,88.18 L72.61,84.63 L72.46,93.7 L72.42,89.35 L72.43,87.29 L72.8,96.26 L72.74,89.5 L72.64,91.33 L72.83,96.19 L72.78,95.71 L72.68,96.76 L73.06,99.51 L72.76,98.34 L73.05,97.02 L73.16,99.67 L73.12,100.13 L73.27,104.26 L73.14,99.84 L73.13,99.83 L73.23,107.85 L73.1,105.71 L73.26,105.78 L73.38,111.05 L73.42,108.22 L73.56,108.01 L73.51,111.58 L73.55,114.04 L73.38,113.14 L73.49,114.43 L73.75,115.11 L73.4,114.73 L73.81,118.85 L73.91,119.23 L73.79,121.09 L74.2,119.44 L74.4,122.42 L74.2,122.8 L74.6,119.15 L74.72,122.9 L74.62,125.39 L74.73,124.9 L74.97,123.24 L75.19,125.66 L75.22,130.07 L75.33,124.19 L75.66,130.9 L75.9,131.2 L75.99,131.53 L76.1,129.64 L76.33,128.94 L76.33,134.69 L76.59,135.53 L77.06,134.13 L77.24,137.49 L77.55,134.16 L77.49,136.62 L77.84,136.96 L77.88,139.48 L78.49,139.17 L78.53,140.16 L78.7,143.99 L78.86,143.52 L79.14,143.73 L79.53,141.89 L79.7,144.12 L79.85,147.82 L80.06,146.39 L80.55,145.56 L80.89,148.06 L81.26,151.42 L81.79,151.03 L82.01,149.74 L82.48,150.59 L82.79,155.37 L83.09,155.62 L83.58,154.32 L83.93,153.93 L84.53,155.24 L85.08,156.71 L85.81,160.51 L86.18,160.04 L86.63,159.56 L86.55,160.14 L86.85,162.99 L87.18,162.57 L87.6,163.03 L87.87,165.58 L87.96,167.25 L88.19,168.33 L88.68,167.84 L88.85,170.31 L89.13,170.5 L89.43,171.98 L89.64,172.97 L89.72,172.76 L90.72,172.83 L91.46,173.13 L92.28,172.65 L92.69,173.31 L93.17,172.65 L93.42,170.7 L93.77,172.62 L94.27,174.96 L94.47,174.69 L94.65,175.15 L95.03,176.44 L95.08,177.83 L95.29,178.22 L95.7,179.4" fill="none" stroke="#4cba3a" stroke-width="1.05" stroke-linejoin="round"/>
<path d="M117.5,179.4 L117.97,178.25 L118.61,177.42 L119.05,176.76 L119.97,176.27 L120.33,176.61 L120.66,177.52 L120.94,178.25 L121.5,179.4" fill="none" stroke="#4cba3a" stroke-width="1.05" stroke-linejoin="round"/>
<path d="M193.6,174.3 L194.41,172.81 L195.42,172.07 L196.25,172.5 L196.94,172.48 L197.81,171.78 L198.83,170.21 L199.97,172.33 L200.85,169.82 L202.05,172.01 L203.03,169.62 L204.09,167.76 L204.94,168.11 L205.56,166.88 L206.52,169.1 L207.37,167.63 L208.34,166.13 L209.09,164.15 L209.68,164.09 L210.72,164.41 L211.35,164.47 L212.2,162.52 L213.12,163.73 L213.56,162.36 L214.34,163.03 L215.09,159.35 L215.86,157.67 L216.3,160.12 L216.86,157.94 L217.43,158.09 L218.33,156.79 L218.99,154.58 L219.54,155.32 L220.1,153.75 L220.82,155.74 L221.29,153.35 L221.65,152.8 L222.41,153.76 L223,148.74 L223.35,150.28 L223.73,148.23 L224.32,145.29 L224.8,148.58 L225.35,144.49 L225.88,147.65 L226.17,144.09 L226.78,146.1 L227.31,145.16 L227.51,141.33 L227.96,143.67 L228.62,137.83 L228.73,137.52 L229.17,138.43 L229.74,136.03 L229.83,136.16 L230.3,136.26 L230.87,136.21 L231.02,134.74 L231.41,129.61 L231.83,134.05 L232.15,133.25 L232.41,129.41 L232.74,130.4 L233.17,125.21 L233.68,125.1 L234.19,123.41 L234.5,123.34 L234.99,126.01 L235.41,130.96 L236.1,126.32 L236.4,128.84 L236.95,127.94 L237.64,135.31 L237.99,132.28 L238.33,130.26 L238.94,132.27 L239.51,132.54 L239.56,139.24 L240.14,134.49 L240.52,134.67 L240.93,142.29 L241.49,141.27 L241.66,139.97 L242.05,143.67 L242.61,144.66 L243.02,141.85 L243.7,147.7 L244.2,147.38 L244.67,147.81 L244.92,147.27 L245.46,145.11 L245.81,147.55 L246.1,150.97 L246.58,150.41 L246.77,154.49 L246.98,151.76 L246.89,151.89 L247.08,152.7 L247.45,157.48 L247.74,156.07 L247.86,158.69 L247.83,158.84 L248.36,160.38 L248.5,159.76 L248.47,162.23 L248.73,163.19 L249.19,162.2 L249.16,165.67 L249.49,163.09 L249.45,163.99 L250.24,167.69 L250.42,168.63 L251.23,168.82 L251.46,169.29 L251.85,168.22 L252.96,171.25 L253.54,172.92 L254.27,173.37 L255.2,171.95 L255.73,172.96 L256.5,174.55 L257.35,174.5 L258.15,176.24 L259.09,175.47 L260.03,176.99 L260.85,177.29 L261.77,176.67 L262.66,175.85 L263.51,176.54 L264.22,178.09 L265.17,177.75 L266.35,178 L267.14,178.03 L268.19,178.59 L268.97,178.3 L269.99,177.93 L271.15,178.41 L272.02,178.9 L273.08,178.53 L273.87,178.73 L274.74,179.1 L275.63,178.99 L276.55,179.4 L277.55,179.4 L278.56,179.06 L279.3,179.4" fill="none" stroke="#111" stroke-width="1.05" stroke-linejoin="round"/>
<path d="M193.9,113.9 L193.95,117.12 L194.02,119.92 L194,120.61 L193.71,117.24 L194.08,119.85 L194.06,115.82 L193.89,117.98 L193.92,121.88 L193.71,119.57 L193.81,126.76 L194.01,120.93 L194.02,121.69 L193.95,122.52 L193.7,129.92 L193.78,125.16 L194.09,131.7 L193.82,133.34 L193.92,131.84 L193.78,134.93 L193.98,136.02 L194.06,131.45 L193.84,131.31 L193.76,131.44 L193.82,136.65 L193.7,138.15 L193.84,136.19 L194.03,138.43 L193.83,139.35 L193.98,137.07 L194.09,137.76 L194,144.78 L193.71,145.25 L193.85,144.63 L193.7,141.75 L193.77,149.09 L193.78,148.58 L194.07,150.75 L193.84,147.65 L193.91,151.39 L193.74,152.1 L194.02,153.71 L193.71,155.14 L193.74,152.2 L193.94,156.7 L193.84,157.61 L193.92,154.82 L193.83,154.96 L193.73,155.75 L193.98,161.5 L193.76,157.1 L194.09,160.7 L193.86,160.04 L193.94,164.04 L193.88,162.86 L193.72,166.23 L193.71,165.06 L194.04,164.28 L194.08,169.03 L194.12,169.25 L194,168.73 L194.1,171.38 L194.25,170.82 L194.61,173.28 L194.69,172.84 L194.92,172.86 L195.34,170.25 L195.74,168.66 L196.15,171.13 L197.24,169.02 L197.92,167.15 L198.62,166.22 L199.75,168.3 L200.44,167.33 L201.43,166.29 L202.21,165.98 L202.91,165.09 L203.69,163.37 L204.71,163.78 L205.07,164.4 L205.76,161.78 L206.05,160.88 L206.7,160.85 L207.34,160.95 L207.96,160.14 L208.39,158.56 L209.1,158.92 L209.61,158.27 L210.48,156.6 L211.19,157.49 L211.67,154.12 L212.2,155.28 L213.17,152.25 L213.59,153.03 L214.12,148.68 L214.65,150.57 L215.12,148.72 L215.61,150.33 L216.13,149.19 L216.4,144.53 L217.08,147.15 L217.33,146.55 L217.84,141.07 L218.12,141.5 L218.29,139.92 L218.74,139.38 L219.03,137.39 L219.49,139.09 L219.8,139.76 L219.91,141.26 L220.07,136.47 L220.44,135.58 L220.63,138 L220.99,130.69 L221.35,130.21 L221.62,131.28 L221.93,135.49 L222.33,130.12 L222.63,131.1 L222.75,125.96 L223.14,128.65 L223.58,131.24 L223.67,124.93 L224.01,120.87 L223.92,124.86 L224.35,120.09 L224.58,125.84 L224.7,120.73 L224.87,118.47 L225.39,118.29 L225.9,122.38 L226.27,115.46 L226.94,116.82 L227.23,114.29 L227.98,115.07 L228.21,114.08 L228.46,114.53 L228.9,110.42 L229.35,114.68 L229.36,110.87 L229.77,113.91 L230.29,106.15 L230.39,104.28 L231,104.72 L231.1,105.54 L231.38,105.86 L231.68,99.88 L231.94,100.74 L232.11,100.1 L232.26,101.17 L232.56,98.47 L232.91,99.95 L232.86,95.42 L233.27,101.56 L233.68,96.66 L233.57,98.24 L233.97,95.12 L234.5,94.91 L234.83,97.14 L235.2,90.61 L235.81,87.61 L236,93.8 L236.33,93.05 L236.91,87.45 L237.08,90.27 L237.66,81.95 L237.82,85.64 L238.17,82.23 L238.36,84.24 L238.96,77.35 L239.06,85.12 L239.62,82.41 L240.41,82.2 L240.93,86.32 L240.97,76.2 L241.17,79.1 L241.23,88.46 L241.4,79.99 L241.37,89.85 L241.46,87.25 L242.57,83.18 L242.74,80.9 L242.63,83.78 L242.71,79.17 L243,86.09 L243.21,78.16 L243.13,79.31 L243.29,80.42 L243.51,78.14 L243.25,81.01 L243.38,79.32 L243.62,81.71 L243.73,77.36 L243.71,75.62 L243.85,77.06 L244.11,68.68 L244.14,70.59 L244.49,67.3 L244.64,72.14 L244.53,71.36 L244.69,63.73 L245.04,64.17 L245.3,66.21 L245.23,69.19 L245.68,69.13 L246.25,62.85 L247.18,70.23 L247.14,64.16 L247.69,71.77 L247.88,66.23 L248.05,69.73 L248.14,70.36 L248.55,71.43 L248.7,69.76 L249.13,76.77 L249.37,75.08 L249.64,76.96 L249.79,78.49 L250.1,77.27 L250.09,73.91 L250.38,74.88 L250.91,80.9 L251.1,76.22 L251.35,87.4 L251.78,83.02 L252.09,80.18 L252.33,81.79 L252.78,85.29 L253.35,83.59 L253.27,85.96 L253.39,87.04 L253.58,90.16 L253.67,96 L253.97,97.08 L254.26,95.12 L254.33,99.02 L254.36,96.96 L254.59,97.96 L254.93,93.45 L254.88,92.95 L255.06,94.43 L255.29,104.76 L255.45,98.7 L255.65,99.3 L255.93,104.7 L255.87,100.66 L256.24,108.73 L256.39,104.41 L256.69,101 L256.48,109.71 L256.78,103.25 L257,113.57 L257.15,108.12 L257.14,106.29 L257.62,111.31 L257.79,107.97 L257.68,108.87 L257.9,109.89 L258,114.12 L258.22,111.76 L258.32,121.42 L258.57,118.08 L258.86,119.29 L258.93,118.29 L259.14,121.38 L259.67,122.89 L259.73,120.35 L259.49,124.17 L259.77,125.36 L259.81,126.73 L260.04,130.13 L259.97,127.02 L260.27,126.01 L260.07,127.68 L260.15,132.47 L260.54,129.53 L260.35,128.55 L260.65,129.6 L260.97,134.62 L261.15,131.49 L261.58,132.42 L261.63,135.32 L261.95,134.89 L262.19,137.46 L262.55,140.2 L262.83,141.82 L262.99,142.11 L263.09,144.77 L263.4,146.64 L263.65,145.67 L263.68,147.33 L263.95,143.4 L264.03,144.61 L264.31,149 L264.51,145.75 L264.91,149.98 L264.81,147.55 L265.05,150.47 L265.54,155.17 L265.64,151.51 L265.77,153.25 L265.93,152.03 L266.25,157.95 L266.52,154.63 L266.65,156.11 L266.94,158.7 L267.25,161.62 L267.13,160.02 L267.67,161.8 L267.6,162.63 L267.85,166.04 L267.88,167.08 L268.03,163.87 L268.24,166.3 L268.05,169.71 L268.17,168.86 L268.47,171.03 L268.56,169.28 L268.62,168.22 L268.84,167.88 L269.02,166.39 L268.97,165.43 L269.33,167.24 L269.39,165.25 L269.31,161.94 L269.59,162.72 L269.38,160.08 L269.52,162.03 L269.94,158.25 L270.01,157.96 L270.07,160.08 L270.22,160.58 L270.28,157.07 L270.5,161.14 L270.54,160.97 L270.76,160 L270.92,162.74 L271.16,165.22 L271.29,167.43 L271.63,167.98 L271.7,165.9 L271.76,165.64 L271.82,163.72 L272.07,162.45 L272.04,159.17 L272.08,159.72 L272.41,161.02 L272.59,157.57 L272.8,156.45 L272.84,154.32 L272.98,156.93 L273.18,157.42 L273.21,157.93 L273.37,157.47 L273.29,157.82 L273.7,157.16 L273.87,159.79 L273.78,157.75 L273.91,159.65 L274.15,164.35 L274.39,163.76 L274.32,162.16 L274.58,165.26 L274.69,163.45 L274.87,161.68 L274.74,161 L274.98,163.4 L274.9,161.08 L275.25,157.9 L275.08,158.87 L275.49,159.76 L275.56,156.15 L275.54,155.89 L275.84,153.58 L275.7,154.51 L276.08,150.95 L275.81,149.53 L276.16,153.56 L276.15,151.89 L276.45,155.62 L276.62,157.01 L276.51,156.45 L276.95,160.11 L276.88,160.36 L277.15,161.66 L277.12,161.26 L277.5,160.97 L277.34,160.4 L277.45,158.92 L277.53,160.83 L277.6,160.74 L277.93,160.2 L278.04,158.74 L278.18,159.3 L278.14,158.49 L278.02,152.37 L278.09,152.08 L278.3,152.74 L278.5,153.66 L278.35,150.57 L278.62,149.48 L278.59,151.9 L278.83,153.41 L279.02,156.12 L279.34,151.54 L279.4,156.49 L279.36,153.84 L279.57,156.24 L279.81,160.46 L279.81,157.85 L280,161.08 L280.33,159.43 L280.35,157.06 L280.78,157.11 L280.68,155.53 L280.97,156.01 L281.12,152.58 L281.34,152.86 L281.99,152.33 L282.05,153.96 L282.24,149.25 L282.82,145.95 L283.11,147.39 L283.11,145.68 L283.39,147.57 L283.52,146.34 L283.51,153.42 L283.71,151.07 L283.68,150.81 L284.14,154.36 L284.07,151.38 L284.13,156.8 L284.26,156.63 L284.55,157.89 L284.55,155.34 L285.06,160.51 L285.97,162.06 L286.53,163.23 L286.75,164.61 L287.3,165 L287.46,165.39 L287.97,167.27 L288.7,164.5 L288.97,165.62 L289.49,166.55 L290.07,166.72 L290.37,168.99 L290.83,169.52 L291.57,172.35 L291.7,169.97 L292.36,174.22 L292.68,172.28 L292.94,175.65 L293.64,173.87 L293.74,175.9 L294.19,177.55 L294.64,178.38 L294.96,178.73 L296.46,179.21 L297.27,178.72 L298.6,179.4" fill="none" stroke="#e4262c" stroke-width="1.05" stroke-linejoin="round"/>
<path d="M194,168 L195.22,168.93 L196.19,165.92 L196.36,166.76 L196.91,166.25 L197.23,165.34 L197.55,164.54 L198.09,161.55 L198.62,162.12 L199.08,160.59 L199.92,158.15 L200.52,159.65 L201.24,156.97 L201.64,158.98 L202.62,156.23 L203.04,154.05 L203.95,153.92 L204.78,155.04 L205.18,154.77 L205.94,155.83 L206.86,152.49 L207.46,152.98 L208.22,154.11 L208.61,149.39 L209.12,148.08 L209.39,145.69 L209.78,147.74 L209.75,147.78 L210.1,143.6 L210.44,142.24 L210.61,146.55 L211.08,139.44 L211.55,138.52 L211.81,144.2 L212.36,138.8 L212.7,138.5 L213.04,142.29 L213.45,136.92 L214.16,135.81 L214.69,133.68 L214.97,137.93 L215.13,137.02 L215.32,135.65 L215.75,132.16 L215.9,132.82 L216.15,126.72 L216.57,127.29 L216.75,130.78 L216.91,123.32 L217.17,127.29 L217.54,123.47 L217.87,128.46 L218.08,122.99 L218.62,123.88 L218.67,121.74 L219.05,117.8 L219.3,118.37 L219.76,117.61 L219.99,122.7 L220.39,116.26 L220.55,114.82 L220.76,115.49 L221.23,118.82 L221.34,108.96 L221.72,108.47 L221.86,114.46 L222.21,112.99 L222.62,114.22 L223.13,104.61 L223.18,112.47 L223.52,106.33 L223.76,109.4 L223.81,105.03 L223.83,103.05 L224.02,104.86 L224.37,99.01 L224.55,97.62 L224.53,102.42 L224.86,104.2 L225.11,101.23 L225.09,101.73 L225.26,98.56 L225.78,100.77 L225.96,94.98 L226.12,97.66 L226.13,98.33 L226.68,91.85 L226.87,90.92 L226.91,92.85 L227.11,92.91 L227.76,86.25 L228.03,83.04 L228.29,84.3 L228.62,85.07 L228.88,79.59 L228.83,87.62 L229.43,83.53 L229.56,78.48 L230.07,76.18 L230.7,83.59 L231.05,81.97 L231.19,73.79 L231.72,73.32 L232.02,76.57 L232.54,71.22 L232.92,75.78 L233.44,75.12 L234.03,71.47 L234.57,74.18 L235.21,69.28 L235.69,72.68 L236.56,71.97 L236.87,71.8 L237.2,75.73 L237.71,76.54 L237.78,74.51 L238.15,76.74 L238.46,84.16 L238.77,81.15 L239.09,81.89 L239.37,79.67 L239.57,87.56 L239.62,84.49 L239.95,78.97 L240.1,87.81 L240.42,88.11 L240.7,85.07 L240.96,87.91 L241.54,85.21 L241.74,93.85 L241.92,89.68 L242.38,94.97 L242.44,93.66 L242.71,88.59 L243.34,88.87 L243.6,97.42 L243.78,98.13 L244.06,94.32 L244.14,94.36 L244.48,101.42 L244.62,96.39 L244.7,97.77 L244.95,103.82 L245.2,104.36 L245.24,105.99 L245.17,105.04 L245.31,103.65 L245.47,110.45 L245.55,111.06 L246.03,107.08 L246.11,104.18 L245.95,104.7 L246.04,105.57 L246.46,107.34 L246.48,110.07 L246.42,112.4 L246.55,118.66 L246.75,115.89 L246.93,117.13 L246.99,114.7 L246.95,121.4 L247.08,118.24 L247.42,120.34 L247.58,123.4 L247.51,118.06 L247.64,122.19 L247.84,123.63 L247.88,127.04 L247.89,128.22 L248.16,123.13 L248.27,130.27 L248.34,126.61 L248.28,125.86 L248.5,132.94 L248.67,126.8 L248.82,128.45 L249.12,135.07 L249.42,130.52 L249.38,131.83 L249.76,138.47 L249.91,140.27 L250.21,139.75 L250.5,137.45 L251,142.01 L251.14,143.07 L251.46,143.42 L251.53,139.38 L251.84,143.75 L252.44,141.36 L252.7,141.94 L253.13,147.52 L253.23,149.75 L253.82,144.66 L254.04,145.77 L254.54,151.76 L254.67,147.7 L255.13,153.06 L255.45,151.33 L255.47,153.23 L255.88,155.3 L256.2,155.74 L256.64,155.96 L256.89,154.75 L256.8,159.24 L257.11,160.69 L257.58,156.22 L257.81,160.78 L258.15,161.07 L258.34,163.04 L258.75,163.84 L258.96,163.8 L259.39,163.32 L259.51,164.8 L260.14,163.62 L260.88,164.15 L262,169.4 L262.15,166.3 L262.18,163.68 L262.71,166 L263.1,165.46 L263.15,161.48 L263.47,161.01 L263.74,162.98 L263.98,162.64 L264.31,156.57 L264.54,159.15 L264.72,154.44 L265.04,156.42 L265.13,153.57 L265.15,151.69 L265.44,152.56 L265.64,150.1 L266.09,153.3 L266.85,149.39 L267.49,151.07 L267.94,152.17 L268.74,146.78 L269.11,152.54 L269.57,149.78 L270.14,150.45 L270.62,149.54 L270.97,153.53 L271.42,154.55 L271.66,155.6 L272.31,155.52 L272.56,158.49 L272.78,156.01 L273.44,157.11 L273.6,158.4 L274.2,160.25 L274.56,158.99 L274.71,162.41 L275.13,163.28 L275.6,161.11 L275.84,163.75 L276.41,163.3 L276.71,163.33 L277.11,165.61 L277.56,167.72 L278.08,169.19 L278.38,168.31 L278.63,171.07 L279.13,170.14 L279.12,170.47 L279.66,174.31 L279.86,174.9 L280.39,175.98 L280.83,174.74 L281.12,175.82 L281.18,177.39 L281.66,177.79 L282,179.4" fill="none" stroke="#4cba3a" stroke-width="1.05" stroke-linejoin="round"/>
<path d="M60,352.3 L61.03,352.01 L62.03,351.53 L63.13,352.06 L64.06,350.97 L65.01,350.96 L65.9,351.7 L67.2,350.06 L68.14,350.77 L68.95,350.02 L70.07,350.12 L71.07,350.3 L71.67,350.03 L72.83,349.99 L73.5,347.49 L74.07,347.15 L75.26,347.02 L75.85,348 L76.24,346.25 L76.7,344 L77.18,345.36 L77.42,342.61 L77.94,341.09 L78.38,342.74 L78.86,340.91 L79.21,338.67 L79.37,338.56 L79.66,336.68 L80,335.69 L80.03,337.55 L80.62,335.19 L80.67,333.52 L80.89,334.16 L81.13,331.15 L81.51,330.43 L81.86,332.43 L82.21,330 L82.34,328.88 L82.5,329.27 L82.93,326.51 L83.13,326.21 L83.63,325.02 L84.05,325.51 L84.1,323.87 L84.66,322.93 L84.84,319.65 L85.1,320.81 L85.36,319.68 L85.73,319.41 L86.05,316.48 L86.39,320.01 L86.73,313.93 L86.92,315.84 L87.29,312.42 L87.67,313.59 L88.38,312.88 L88.52,311.7 L88.89,310.87 L89.34,312.68 L89.68,308.94 L89.87,310.97 L89.88,305.91 L90.28,307.77 L90.5,306.22 L90.79,304.6 L90.99,306.76 L91.05,305.18 L91.38,304.47 L91.32,303.71 L92.01,303.16 L92.49,297.77 L92.77,295.89 L93.14,300.24 L93.38,295.48 L93.71,295.31 L94.13,295.53 L94.82,301.71 L94.99,301.61 L95.23,301.09 L95.27,302.95 L95.47,301.31 L95.55,304.58 L95.8,302.86 L95.94,308 L96.2,307.53 L96.03,307.05 L96.19,305.74 L96.4,309.14 L96.72,311.09 L96.64,312.39 L96.84,312.2 L96.85,312.73 L97,315.29 L97.16,314.6 L97.27,315.71 L97.47,317.97 L97.63,317.14 L97.74,321.1 L97.93,320.68 L97.67,322.25 L98.09,318.8 L98,321.33 L98.27,323.73 L98.2,322.51 L98.27,323 L98.56,328.06 L98.38,328.05 L98.72,326.36 L98.62,328.47 L98.83,331.38 L98.49,329.29 L98.87,331.89 L98.79,333.84 L98.93,335.36 L98.81,332.51 L99,333.5 L99,337.67 L98.98,337.58 L98.94,336.85 L99.16,340.39 L99.36,338.36 L99.38,340.99 L99.2,341.55 L99.34,342.34 L99.21,344.87 L99.48,345.02 L99.76,346.92 L99.8,347.31 L100.33,346.97 L100.49,348.14 L100.61,348.98 L100.86,350.81 L101.71,350.62 L102.69,351.54 L103.62,350.94 L104.28,350.93 L104.99,351.71 L106,352.3" fill="none" stroke="#111" stroke-width="1.05" stroke-linejoin="round"/>
<path d="M50,352.3 L50.72,352.3 L51.52,351.89 L52.33,350.65 L53.53,350.13 L54.22,350.29 L54.98,349.99 L55.88,350.49 L56.84,348.44 L57.81,348.1 L58.96,349.66 L59.95,346.74 L60.9,349.38 L61.83,347.91 L62.95,347.81 L63.94,347.68 L64.5,346.57 L65.16,345.33 L65.36,342.13 L66.18,342.95 L66.2,344.21 L66.68,342.36 L67.13,339.3 L67.24,341.46 L67.48,340.03 L67.79,338.79 L68.36,339.4 L68.74,336.02 L68.71,335.04 L69.08,338.05 L69.13,341.12 L69.54,341.02 L69.65,339.75 L69.8,341.26 L70.41,340.63 L70.95,341.7 L71.66,337.29 L71.96,336.19 L72.73,339.97 L73.21,338.17 L73.92,333.2 L74.32,334.06 L74.3,333.61 L74.54,332.44 L74.84,331.48 L75.11,329.63 L75.12,327.25 L75.34,329.14 L76.19,332.04 L77,332.35 L77.39,327.21 L77.21,326.78 L77.55,328.81 L77.9,326.36 L78.19,322.98 L78.33,323.51 L78.55,321.29 L78.79,325.72 L79,323.5 L78.87,325.59 L79.23,317.9 L79.54,320.23 L79.74,316.63 L79.85,319.15 L80.23,314.59 L80.48,318.6 L80.84,315.64 L80.96,313.83 L81.1,311.43 L81.41,309.63 L81.73,313.81 L81.9,306.79 L82.02,309.4 L82.12,313.21 L82.6,308.02 L82.69,304.35 L82.6,306.44 L82.92,306.68 L82.73,305.47 L83.19,305.82 L83.31,307.23 L83.13,299.73 L83.37,305.46 L83.4,304.25 L83.7,299.16 L83.72,302.67 L83.89,295.14 L84.02,293.21 L83.94,300.1 L84.23,292.56 L84.12,294.77 L84.4,294.6 L84.5,294.14 L84.52,291.92 L84.4,289.1 L84.52,289.26 L84.73,285.51 L84.48,289.64 L84.63,285.28 L84.63,288.87 L84.76,281.98 L85.04,283.42 L84.89,286.82 L85.01,279.94 L85.3,283.89 L85.27,276.78 L85.37,279.84 L85.44,276.25 L85.48,280.29 L85.39,277.75 L85.61,280.84 L85.73,277.47 L85.48,274.45 L85.76,267.22 L85.74,275.71 L85.97,275.49 L85.71,270.69 L86.08,270.32 L85.93,261.8 L86.23,271.03 L86.19,263.95 L86.32,268.64 L86.34,265.01 L86.24,260.23 L86.32,259.67 L86.45,255.99 L86.59,258.04 L86.51,255.83 L86.74,257.11 L87.04,251.77 L86.96,253.28 L87.08,258.29 L87.2,248.04 L87.52,256.15 L87.73,254.69 L87.63,259.85 L87.89,255.42 L87.93,262.31 L88.2,263.12 L87.95,256.15 L88.16,255.02 L88.4,254.55 L88.55,262.2 L88.55,260.91 L88.77,262.09 L88.84,265.62 L88.85,265.52 L88.86,256.63 L89.09,257.82 L88.97,258.91 L89.13,250.74 L89.36,254.73 L89.51,254.27 L89.58,250.1 L89.39,252.36 L89.7,255.41 L89.74,245 L89.73,242.81 L89.82,254.23 L89.9,249.93 L90.1,241.34 L90.22,239.48 L90.11,245.44 L90.18,249.85 L90.39,244.24 L90.69,235.95 L90.8,234 L90.73,243.64 L90.97,240.41 L91.05,245.44 L90.95,239.72 L90.94,243.39 L91.08,244.43 L91.35,245.44 L91.37,241.8 L91.27,251.9 L91.66,247.47 L91.48,247.4 L91.78,250.21 L92.02,250.36 L92.23,257.79 L92.45,258.19 L92.53,252.86 L92.74,252.32 L92.84,253.5 L92.85,253.29 L92.96,250.27 L93.03,254.68 L93.04,251.95 L93.18,249.29 L93.25,249.43 L93.48,243.44 L93.36,251.43 L93.5,250.04 L93.94,241.09 L94.05,240.57 L94.32,238.77 L94.18,235.5 L94.59,236.94 L94.57,246.85 L94.88,242.59 L94.96,240.34 L94.88,241.91 L95.15,241.64 L95.33,241.59 L95.31,241.72 L95.49,234.05 L95.79,240.08 L95.94,240.92 L96.06,233.78 L95.81,230.69 L96.08,243.18 L96.12,235.45 L96.14,240.8 L96.05,242.25 L96.08,233.76 L96.08,241.19 L96.38,238.44 L96.31,245.91 L96.31,244.45 L96.49,243.77 L96.38,248.65 L96.61,242.64 L96.68,249.93 L96.73,252.53 L96.61,252.54 L96.57,252.59 L96.5,249.36 L96.7,257.49 L96.8,258.69 L96.9,260.38 L96.83,256.59 L96.8,252.29 L96.96,258.3 L96.74,254.37 L96.79,261.55 L96.97,255.71 L97.03,261.29 L96.89,260.67 L97.21,257.72 L96.94,264.38 L97.21,269.41 L97.06,268.37 L96.99,264.49 L97.32,268.87 L97.2,268.94 L97.26,269.23 L97.46,275.36 L97.23,273.56 L97.56,272.66 L97.43,270.74 L97.46,274.15 L97.55,269.5 L97.75,272.35 L97.61,272.36 L97.68,271.84 L97.61,276.39 L97.64,278.49 L97.62,279.44 L97.91,281.93 L98.02,286.48 L97.87,281.91 L98.02,287.44 L97.98,285.96 L98.08,285.15 L98.1,284.85 L98.17,286.59 L98.4,284.12 L98.22,293.32 L98.47,291.8 L98.73,293.14 L98.68,296.34 L98.8,291.94 L98.72,289.89 L99.05,298.47 L98.97,295.61 L99.2,297.34 L99.13,301.34 L99.33,300.27 L99.48,298.45 L99.58,296.95 L99.61,302.43 L99.74,299.9 L99.65,299.04 L99.72,300.82 L99.96,305.41 L100.14,305.15 L100.25,302.33 L100.18,304.15 L100.34,309.24 L100.46,309.03 L100.46,308.97 L100.45,308.76 L100.69,312.99 L100.63,316.26 L100.7,311.03 L100.96,313.7 L101.08,317.58 L101.2,319.24 L101.25,319.23 L101.32,315.71 L101.27,317.09 L101.51,318.75 L101.65,322.69 L101.89,319.64 L102,319.46 L102.06,327.68 L101.95,327.17 L102.09,326.36 L102.31,329.95 L102.17,325.81 L102.5,329.29 L102.58,327.72 L102.64,328.26 L102.44,330.05 L102.84,331.62 L102.73,331.95 L102.66,333.81 L102.92,334.11 L103.09,334.9 L103.39,339.2 L103.43,335.62 L103.62,339.34 L103.86,339.22 L104.09,342.98 L104.28,339.19 L104.45,342.87 L104.62,345.15 L104.62,342.04 L105.09,343.38 L105.35,347.05 L105.94,348.06 L106.62,348.05 L106.94,347.02 L107.69,350.23 L108.17,350.02 L108.91,350.56 L109.97,349.79 L110.85,350.55 L111.86,350.52 L113.19,351.7 L114.15,350.53 L115.11,349.43 L116.05,351.2 L116.69,350.54 L117.2,347.68 L117.53,346.67 L118.43,346.7 L118.63,348.57 L118.78,347.39 L119.3,349.73 L119.24,350.86 L119.81,351.83 L120,352.3" fill="none" stroke="#e4262c" stroke-width="1.05" stroke-linejoin="round"/>
<path d="M52,352.3 L52.82,351.71 L53.52,352.29 L54.3,351.16 L55.49,349.65 L56.19,350.72 L56.82,349.62 L57.83,349.21 L58.59,347.47 L59.15,346.57 L60,349.3 L60.84,348.22 L61.55,347.64 L62.24,345 L63.27,346.62 L63.97,342.9 L64.41,342.43 L64.91,344.76 L65.38,344.3 L66.15,338.24 L66.68,340.2 L67.26,339.01 L68.34,336.14 L68.94,335.39 L69.71,340.27 L70.33,333.5 L71.06,336.79 L71.81,332.96 L72.5,338.32 L72.97,333.55 L73.56,330.32 L74.03,330.05 L74.54,335.56 L74.82,331.46 L75.42,327.16 L75.66,333.51 L76.32,325.06 L76.58,331.51 L76.77,327.63 L77.07,324.52 L77.69,325.72 L78.11,320.09 L78.31,326.64 L78.78,321.81 L79.08,326.22 L79.52,315.76 L79.98,317.98 L80.2,315.92 L80.58,316.18 L80.75,318.36 L81.07,319.02 L81.36,318.03 L81.99,313.97 L82.27,310.22 L82.6,311.16 L82.75,316.36 L83.18,308.79 L83.72,307.85 L84.01,304.65 L84.44,304.77 L84.29,312.28 L84.51,311.03 L85,306.01 L84.78,298.4 L85.03,301.43 L85.36,307.64 L85.43,296.37 L85.68,295.33 L85.66,299.67 L86.08,292.4 L86.14,299.76 L86.43,294.69 L86.64,290.97 L86.73,298.05 L86.96,293.48 L86.81,286.58 L87.14,287.35 L87.34,285.21 L87.56,286.18 L87.42,284.62 L87.75,289.05 L87.89,282.75 L88.09,292.75 L88.27,291.83 L88.23,291.72 L88.73,284.42 L88.75,283.43 L89.06,275.67 L89.15,281.71 L89.2,283.5 L89.56,273.38 L89.74,277.67 L89.85,279.51 L89.87,278.1 L90.19,281.39 L90.32,279.66 L90.71,275.74 L90.96,265.74 L91.04,273.76 L91.25,269.63 L91.19,265.3 L91.59,264.24 L91.55,266.06 L91.9,268.02 L91.9,270.96 L92.21,270.19 L92.26,272.08 L92.67,271.57 L93.01,268.35 L92.84,259.51 L93.16,265.74 L93.42,255.6 L93.66,253.01 L94.26,266.43 L94.31,261.63 L94.62,257.06 L94.85,258.09 L94.9,252.6 L95.13,252.55 L95.21,265.99 L95.15,252.87 L95.57,253.07 L95.46,267.12 L95.71,257.65 L95.6,259.49 L95.81,268.96 L96.19,269.63 L96.22,272.87 L96.28,273.6 L96.37,261.36 L96.18,264.75 L96.35,269.56 L96.31,275.9 L96.4,267.03 L96.41,271.91 L96.61,274.49 L96.6,269.57 L96.65,272.65 L96.62,276.91 L96.69,280.37 L96.94,272.71 L96.99,276.65 L96.98,281.57 L97.16,286.57 L97.21,277.66 L97.19,280.42 L97.04,284.5 L97.28,289.93 L97.28,290.36 L97.42,280.9 L97.56,284.47 L97.55,282.46 L97.4,295.18 L97.47,285.48 L97.57,285.73 L97.9,298.87 L97.89,291.71 L98.04,294.13 L97.8,297.5 L97.95,292.9 L97.99,295.36 L98,299.24 L98.33,299.63 L98.04,302 L98.11,300.33 L98.52,303.71 L98.61,305.55 L98.43,298.93 L98.58,306.39 L98.57,303.06 L98.85,304.18 L98.87,307.44 L99.07,302.25 L98.85,311.93 L99.12,304.96 L98.98,307.21 L99.22,315.93 L99.16,308.99 L99.42,312.35 L99.56,319.54 L99.67,317.32 L99.58,311.26 L99.78,315.8 L99.73,319.17 L100.01,319.31 L100.07,324.36 L99.81,319.15 L100.22,324.17 L100.33,319.42 L100.23,327.54 L100.32,325.94 L100.57,322.24 L100.28,329.43 L100.57,324.45 L100.75,326.16 L100.55,327.25 L100.62,329.12 L101.03,330.45 L101.21,328.01 L101,329.82 L101.27,331.24 L101.42,334.68 L101.49,337.99 L101.68,339.4 L101.54,336.4 L101.97,337.46 L101.81,338.96 L101.87,342.25 L102.3,338.36 L102.67,341.9 L102.63,343.32 L103.16,342.71 L103.03,342.85 L103.29,345.48 L103.64,347.88 L103.84,344.98 L104.19,346.47 L105.07,347.44 L105.97,349.49 L107.22,349.06 L108.06,349.45 L109.17,350.36 L109.81,351.1 L110.88,349.34 L111.81,351.7 L113.08,350.65 L113.99,351.65 L114.76,351.79 L115.97,352.3 L116.67,351.79 L117.82,352.3 L118.72,352.23 L119.9,351.95 L120.7,352.3" fill="none" stroke="#4cba3a" stroke-width="1.05" stroke-linejoin="round"/>
<circle cx="107.5" cy="37.6" r="0.8" fill="#555"/>
<circle cx="268.4" cy="39.3" r="0.7" fill="#999"/>
<circle cx="109" cy="202.5" r="0.8" fill="#666"/>
<path d="M193.5,345 L194.13,345.02 L195.02,345 L195.54,342.45 L196.25,341.86 L197.2,340.96 L197.85,340.67 L198.47,340.87 L199.41,340.95 L199.81,339.17 L200.71,340.96 L201.82,340.3 L202.68,339.64 L203.58,339.41 L204.15,339.21 L205.09,338.4 L205.98,336.65 L206.75,336.21 L207.38,334.2 L208.23,336.4 L208.94,335.27 L209.42,334.85 L209.9,333.86 L210.68,330.9 L211.23,331.79 L211.9,330.81 L212.69,329.75 L213.15,329.46 L213.84,327.45 L214.48,327.33 L215.08,328.01 L216.08,325.94 L216.64,327.99 L217.02,323.12 L217.88,326.03 L218.38,321.64 L218.85,324.7 L219.59,323.6 L219.88,323.13 L220.51,321.62 L220.97,322.31 L221.72,320.14 L222.12,318.78 L222.83,317.87 L223.3,317.91 L223.86,314.58 L224.35,316.14 L224.88,312.6 L225.43,314.38 L226,312.94 L226.17,311.46 L226.67,308.43 L226.91,313.34 L227.34,308.06 L227.77,309.13 L228.08,307.47 L228.57,309.04 L228.8,304.9 L229.48,308.32 L229.97,304.16 L230.52,302.11 L230.75,302.68 L231.58,303.48 L231.8,302.28 L232.39,298.47 L232.64,298.31 L232.85,296.99 L233.18,296.6 L233.47,296.09 L233.83,297.88 L234.48,291.59 L235,292.15 L235.32,294.05 L235.7,291.29 L236.19,289.35 L236.8,288.36 L237.23,288.36 L237.34,290.58 L237.55,289.55 L237.99,292.82 L238.52,297.78 L238.5,295.34 L238.85,298.21 L239.22,299.71 L239.59,295.07 L239.66,296.83 L240.3,297.03 L240.43,299.48 L240.66,303.35 L240.9,303.63 L241.37,305.98 L242.16,305.39 L242.98,302.51 L243.67,305.1 L244.41,300.93 L244.73,304.55 L245.62,305.33 L245.61,309.16 L245.79,304.36 L245.88,305 L246.34,306.52 L246.52,312.37 L246.82,312.98 L246.78,312.77 L247.13,314.33 L247.08,315.49 L247.16,313.62 L247.68,315.5 L247.55,318.24 L247.78,314.55 L247.77,316.95 L248.05,321.73 L248.18,322.1 L248.58,320.54 L248.8,323.34 L248.8,321.51 L249.01,325.85 L249.25,322.98 L249.39,325.38 L249.53,326.77 L249.68,328.92 L249.95,326.23 L250.32,328.16 L250.65,329.99 L250.89,332.49 L251.15,332.97 L251.71,332.43 L252.22,331.55 L252.56,333.04 L252.94,334.03 L253.15,336.25 L254.04,336.01 L254.39,338.18 L254.83,338.62 L255.27,339.06 L256.1,339.4 L256.47,339.15 L257.24,341.3 L257.9,343.15 L258.15,344.48 L259.06,344.9 L259.6,345.22 L260.13,345.93 L260.66,345.54 L261.05,347.6 L262.19,346.37 L263.16,348.27 L264.05,349.14 L265.15,348.74 L266.05,349.44 L266.87,349.71 L267.93,350.22 L268.86,350.48 L269.67,351.83 L270.62,351.11 L271.32,351.37 L272.4,351.94 L273.5,352.25 L274.31,351.58 L275.3,352.11 L276.05,351.57 L277.02,351.81 L278.03,352.3 L278.94,352.3 L280,352.3" fill="none" stroke="#111" stroke-width="1.05" stroke-linejoin="round"/>
<path d="M193.5,345 L194.18,344.62 L195.07,343.67 L195.6,343.55 L196.17,342.65 L197.05,343.22 L197.55,340.59 L198.26,342.21 L199.22,338.25 L200.05,341.83 L200.63,339.68 L201.15,336.28 L202.01,335.89 L202.48,336.03 L203.01,336.42 L203.78,337.65 L204.41,335.93 L205,335.36 L205.58,332.61 L206.4,335.81 L206.94,333.55 L207.13,329.94 L207.52,328.07 L208.11,329.04 L208.54,328.02 L208.98,329.89 L209,325.05 L209.76,325.74 L210.19,324.34 L210.2,324.93 L210.86,321.66 L210.96,321.14 L211.69,323.1 L211.72,318.69 L212.09,316.46 L212.74,316.34 L213.02,317.32 L213.4,318.58 L213.9,317.17 L214.42,314.75 L214.99,312.84 L215.81,316.04 L216.07,315.89 L216.56,311.38 L217.34,312.49 L217.26,314.33 L217.52,307.75 L217.96,307.41 L217.98,304.48 L218.11,307.68 L218.39,306.96 L218.66,304.88 L219.11,304.25 L219.17,306.57 L219.23,299.71 L219.73,304.46 L219.68,298.22 L220.1,303.8 L220.2,303.05 L220.79,299.18 L220.92,293.91 L221.09,300.66 L221.49,297.51 L221.81,297.74 L222.27,292.08 L222.42,295.11 L222.69,289.73 L223.21,294.63 L223.55,288.45 L224.19,286.84 L224.36,286.57 L225.05,283.69 L225.47,285.74 L225.89,282.57 L226.07,289.04 L226.58,285.91 L226.73,284.33 L226.77,278.03 L226.98,285.82 L227.52,285.5 L227.51,281.37 L227.95,281.33 L228.15,283.08 L228.31,277.47 L228.83,280.12 L229.09,277.11 L229.58,278.52 L229.87,275.34 L230.56,276.5 L230.83,274.87 L231.48,271.77 L231.85,268.94 L231.97,270.46 L231.9,269.88 L232.4,271.58 L232.42,265.34 L232.56,266.53 L232.58,268.45 L232.57,266.59 L232.68,264.04 L232.99,258.99 L233.3,261.02 L233.49,264.85 L233.57,253.63 L233.81,260.25 L233.99,253.5 L234.5,258.17 L234.53,259.91 L234.71,256.37 L234.88,252.7 L235.62,257.47 L236.15,250.39 L236.53,248.71 L236.85,249.96 L237.67,253.33 L238.15,253.73 L238.51,243.59 L239.11,244.03 L239.55,244.88 L240.25,245.03 L240.43,248.37 L240.99,242.82 L240.93,236.82 L241.55,236.07 L241.78,241.72 L241.92,243.61 L242.31,234.48 L242.98,232.07 L243.63,233.71 L243.86,230.3 L244.53,234.32 L245,235.97 L245.55,238.84 L245.97,228.16 L246.11,228.91 L246.14,233.65 L246.65,230.95 L246.69,234.06 L247.08,237.26 L247.55,239.22 L247.96,238.69 L248.66,228.76 L249.04,237.73 L249.09,235.25 L249.65,241.89 L249.92,238.53 L250.49,242.28 L250.88,239.05 L250.88,236.81 L251.03,245.32 L251.11,245.03 L251.06,248.2 L251.48,250.07 L251.42,248.75 L251.46,251.12 L251.79,245.32 L251.6,247.39 L251.9,252.23 L251.99,244.42 L252.26,245.77 L252.4,247.98 L252.35,256.09 L252.41,249.54 L252.7,257.13 L252.97,257.63 L253.15,256.27 L253.29,252.53 L253.13,258.47 L253.3,261.67 L253.58,260.24 L253.8,261.57 L253.72,260.47 L254.17,267.19 L254.15,267.55 L254.69,264.87 L254.76,262.26 L254.98,266.5 L255.24,262.28 L255.62,268.51 L255.63,272.5 L255.93,270.1 L256.11,266.51 L256.18,271.13 L256.48,277.4 L256.33,273.59 L256.41,274.11 L256.81,279.85 L256.81,274.75 L256.83,278.75 L257.25,274.71 L257.32,274.57 L257.22,277.57 L257.55,279.45 L257.55,283.33 L257.58,285.34 L257.72,284.08 L257.9,281.96 L258.19,285.18 L258.32,285.85 L258.56,284.32 L258.61,289.7 L258.97,289.62 L259.23,291.27 L259.42,288.63 L259.56,294.87 L259.8,291.21 L259.75,297.63 L259.89,299.17 L260.34,292.28 L260.27,298.46 L260.46,293.77 L260.87,297.54 L261.03,295.86 L261.06,301.6 L261.12,298.33 L261.6,305.27 L261.92,299.43 L261.95,305.71 L262.16,305.98 L262.24,301.81 L262.42,302.46 L262.81,307.23 L263.03,305.17 L263.05,306.59 L263.49,313.72 L263.7,307.67 L263.52,315.22 L263.86,314.7 L263.98,313.38 L264.23,314.04 L264.44,311.93 L264.8,318.9 L264.91,316.97 L265.46,317.53 L265.56,316.75 L266.01,316.65 L266.46,321.23 L266.68,320.79 L266.95,316.67 L267.24,316.5 L267.69,317.82 L267.7,317.75 L268.05,317.67 L268.23,315.89 L268.42,320.23 L268.5,320.33 L268.68,318.72 L268.82,317.36 L268.82,321.04 L268.84,321.22 L269.25,323.95 L269.24,326.96 L269.57,323.96 L269.98,326.27 L270.35,325.98 L270.95,328.37 L271.25,329.91 L271.78,326.33 L272.05,331.4 L272.02,328.49 L272.05,326.31 L272.3,324.76 L272.36,328.85 L272.6,325.43 L272.88,324.9 L273.01,324.44 L273.05,319.8 L273.08,323.44 L272.97,323.71 L273.13,319.65 L273.25,318.89 L273.54,314.86 L273.84,318.33 L273.84,320.46 L273.95,319.2 L274.23,321.97 L274.25,323.89 L274.42,320.14 L274.56,321.26 L274.7,326.74 L274.96,328.5 L275.53,324.22 L276.06,330.7 L276.13,331.42 L276.37,327.95 L276.69,325.59 L276.61,328.99 L276.79,325.13 L276.99,326.46 L276.94,320.97 L277.05,322.29 L276.98,318.64 L277.21,318.18 L277.28,321 L277.38,317.25 L277.53,317.43 L277.83,317.24 L278.13,319.33 L278.24,313.12 L278.21,317 L278.7,314.03 L278.74,310.35 L278.98,313.49 L279.05,314.9 L279.23,312.5 L279.14,319.21 L279.51,319.34 L279.27,314.36 L279.47,317.87 L279.72,316.52 L279.8,317.25 L279.73,322.3 L280.02,322.88 L280.2,320.85 L280.38,318.92 L280.85,321.37 L280.83,315.3 L281.37,317.89 L281.61,313.91 L282,313.21 L282.69,313.02 L283.16,316.7 L283.27,314.24 L283.67,317.87 L283.78,314.67 L283.89,319.22 L284.12,314.39 L284.55,318.14 L284.84,317.72 L285.11,317.07 L285.29,322.1 L285.63,320.68 L286.29,324.28 L286.51,321.68 L286.94,326.45 L287.28,323.42 L287.76,327.1 L288.18,330.21 L288.51,327.97 L288.8,328.02 L288.95,329.43 L289.53,333.12 L289.59,330.91 L289.97,331.77 L290.32,332.75 L290.58,334.54 L291.26,335.28 L291.72,336.25 L291.9,338.09 L292.63,336.61 L292.73,338.61 L293.38,339.71 L294,340.94 L294.38,339.25 L294.72,343.2 L294.91,341.18 L295.54,345.26 L295.66,345.07 L296.06,346.3 L296.63,345.45 L296.84,347.98 L297.33,348.78 L297.66,348.44 L298.26,350.14 L298.45,350.66 L298.91,351.78 L299.2,352.3" fill="none" stroke="#e4262c" stroke-width="1.05" stroke-linejoin="round"/>
<path d="M193.5,342.8 L194.39,342.89 L195.37,340.17 L196,340.58 L197.01,341.93 L198.08,340.46 L198.79,340.16 L199.39,338.55 L200.16,340.18 L200.89,339.21 L201.66,338.01 L202.53,336.02 L203.34,333.31 L203.62,337.22 L204.4,332.16 L205.19,336.02 L205.45,332.47 L206.05,331.12 L206.85,329.54 L207.48,328.14 L207.87,331.85 L208.46,328.71 L209.04,328.24 L209.45,324.69 L210.09,329.67 L210.69,326.98 L210.94,324.27 L211.58,325.46 L211.85,321.78 L212.45,322.79 L213.12,321.9 L213.21,323.21 L213.77,320.25 L214.09,318.72 L214.56,320.26 L214.84,317.81 L215.27,317.98 L215.61,314.03 L216.14,315.79 L216.42,313.59 L216.88,311.35 L217.43,315.7 L217.87,314.91 L218.19,313.9 L218.71,307.36 L219.3,312.26 L219.44,306.35 L220.19,306.13 L220.42,302.61 L220.78,306.77 L221.59,309.11 L221.7,300.16 L221.93,305.64 L222.43,303.52 L222.49,301.69 L222.89,301.66 L223.11,303.55 L223.66,295.85 L223.72,301.2 L224.01,300.96 L224.41,297.89 L224.78,292.69 L224.91,292.15 L225.37,295.26 L225.45,296.15 L225.87,289.26 L226.17,295.17 L226.52,290.92 L226.97,293.17 L227.2,287.07 L227.44,290.74 L227.82,286.72 L227.94,283.72 L228.41,284.67 L228.43,285.18 L229.09,285.12 L229.4,285.31 L229.57,283.18 L229.82,275.28 L230.12,276.48 L230.66,279.38 L230.82,277.75 L230.96,275.93 L231.51,273.54 L231.64,272.74 L231.99,274.73 L232.23,267.53 L232.61,273.01 L233.1,271.7 L233.57,267.56 L233.61,267.87 L234.18,263.52 L234.67,264.27 L234.9,263.11 L235.55,258.69 L235.69,260.81 L236.01,261.62 L236.39,266.19 L236.88,262.85 L237.11,259.35 L237.67,262.76 L237.9,257.54 L238.46,260.85 L238.52,256.55 L239.05,253.96 L239.33,256.12 L239.76,253.91 L239.96,250.59 L240.29,249.31 L240.9,248.91 L241.52,245.38 L242.19,249.38 L242.9,242.57 L243.77,244.76 L244.47,247.85 L244.91,250.5 L245.76,243.17 L246.1,246.38 L247.04,245.32 L247.14,243.83 L247.21,242.93 L247.26,245.23 L247.38,246.37 L247.68,244.53 L247.57,246.44 L248,250.52 L247.77,255.09 L248.23,255.8 L248.15,255.66 L248.26,249.6 L248.62,258.56 L248.48,259.98 L248.53,254.33 L248.64,253.7 L248.82,260.84 L248.99,255.8 L249.06,258.12 L249.44,262.36 L249.26,264.16 L249.55,262.45 L249.66,265.62 L249.89,264.94 L249.94,265.45 L250.05,265.52 L250.08,267.84 L250.32,266.2 L250.52,269.43 L250.61,272.47 L250.77,273.31 L250.67,271.31 L250.97,275.92 L251.29,270.36 L251.2,271.13 L251.43,271.58 L251.63,274.55 L251.9,279.96 L252.32,283.75 L252.68,282.48 L252.98,276.16 L252.99,285.98 L253.39,279.73 L253.8,282.75 L254.02,282.58 L254.2,281.25 L254.64,290.49 L255.09,289.54 L255.3,286.58 L255.26,292.78 L255.61,291.26 L255.59,288.02 L256,293.59 L256.36,294.7 L256.39,292.14 L256.82,298.55 L256.89,292.25 L257.26,296.18 L257.47,294.32 L257.8,298.56 L258.01,298.79 L258.65,301.41 L258.69,299.44 L258.94,303.03 L259.37,299.1 L259.56,303.57 L259.79,302.62 L259.91,303.31 L260.4,304 L260.43,305.95 L260.52,306.34 L260.75,306.61 L261.04,307.72 L261.49,308.2 L261.46,311.89 L261.71,311.67 L262.03,309.18 L262.26,310.3 L262.32,316.5 L262.83,316.35 L262.73,315.49 L262.99,319.28 L263.19,315.53 L263.69,319.58 L264.01,319.38 L264.5,320.15 L264.82,320.62 L264.97,321.32 L265.41,324.83 L265.56,324.26 L266.09,325.01 L266.58,326.49 L267.11,325.61 L267.47,324.34 L268.21,329.79 L268.53,331.58 L269.25,327.49 L269.73,329.84 L269.83,329.81 L270.18,329.55 L270.35,330.84 L270.76,331.99 L270.99,336.45 L271.41,335.54 L271.8,338.65 L271.93,336.02 L272.53,340.19 L272.86,339.25 L272.95,338.6 L273.53,342.03 L273.75,342.98 L273.99,342.76 L274.61,341.98 L274.86,343.2 L275.31,346.45 L275.6,345.91 L275.71,346.98 L276.53,347.29 L277.11,349.38 L277.98,348.93 L278.79,350.35 L279.36,350.05 L280.17,350.27 L280.88,350.26 L281.53,351.75 L282.1,352.3" fill="none" stroke="#4cba3a" stroke-width="1.05" stroke-linejoin="round"/>
<line x1="88.7" y1="147.4" x2="137.5" y2="147.4" stroke="#555" stroke-width="1.3" stroke-linecap="butt"/>
<line x1="88.7" y1="143.55" x2="88.7" y2="151.25" stroke="#555" stroke-width="1.4" stroke-linecap="butt"/>
<line x1="137.5" y1="143.55" x2="137.5" y2="151.25" stroke="#555" stroke-width="1.4" stroke-linecap="butt"/>
<line x1="254.9" y1="132.4" x2="308.6" y2="132.4" stroke="#444" stroke-width="1.3" stroke-linecap="butt"/>
<line x1="254.9" y1="128.7" x2="254.9" y2="136.1" stroke="#444" stroke-width="1.4" stroke-linecap="butt"/>
<line x1="308.6" y1="128.7" x2="308.6" y2="136.1" stroke="#444" stroke-width="1.4" stroke-linecap="butt"/>
<line x1="105.7" y1="308" x2="143.8" y2="308" stroke="#666" stroke-width="1.3" stroke-linecap="butt"/>
<line x1="105.7" y1="304.25" x2="105.7" y2="311.75" stroke="#666" stroke-width="1.4" stroke-linecap="butt"/>
<line x1="143.8" y1="304.25" x2="143.8" y2="311.75" stroke="#666" stroke-width="1.4" stroke-linecap="butt"/>
<line x1="269.3" y1="287.5" x2="321.3" y2="287.5" stroke="#333" stroke-width="1.3" stroke-linecap="butt"/>
<line x1="269.3" y1="283.4" x2="269.3" y2="291.6" stroke="#333" stroke-width="1.4" stroke-linecap="butt"/>
<line x1="321.3" y1="283.4" x2="321.3" y2="291.6" stroke="#333" stroke-width="1.4" stroke-linecap="butt"/>
<text x="167.8" y="55.2" font-family='"Liberation Sans", sans-serif' font-size="11.6" font-weight="bold" text-anchor="end" fill="#000" >N:1.51%</text>
<line x1="122" y1="58.9" x2="167.8" y2="58.9" stroke="#000" stroke-width="1.6" stroke-linecap="butt"/>
<text x="167.8" y="71.6" font-family='"Liberation Sans", sans-serif' font-size="11.6" font-weight="bold" text-anchor="end" fill="#000" >P:1.83%</text>
<text x="327.9" y="55.8" font-family='"Liberation Sans", sans-serif' font-size="11.6" font-weight="bold" text-anchor="end" fill="#000" >N:33.2%</text>
<line x1="282" y1="58.9" x2="327.9" y2="58.9" stroke="#000" stroke-width="1.6" stroke-linecap="butt"/>
<text x="327.9" y="72.6" font-family='"Liberation Sans", sans-serif' font-size="11.6" font-weight="bold" text-anchor="end" fill="#000" >P:12.6%</text>
<text x="167.8" y="219.4" font-family='"Liberation Sans", sans-serif' font-size="11.6" font-weight="bold" text-anchor="end" fill="#000" >N:3.54%</text>
<line x1="122" y1="222.7" x2="167.8" y2="222.7" stroke="#000" stroke-width="1.6" stroke-linecap="butt"/>
<text x="167.8" y="235.6" font-family='"Liberation Sans", sans-serif' font-size="11.6" font-weight="bold" text-anchor="end" fill="#000" >P:3.69%</text>
<text x="332.8" y="219.6" font-family='"Liberation Sans", sans-serif' font-size="11.6" font-weight="bold" text-anchor="end" fill="#000" >N:16.5%</text>
<line x1="287" y1="222.8" x2="332.8" y2="222.8" stroke="#000" stroke-width="1.6" stroke-linecap="butt"/>
<text x="332.8" y="235.4" font-family='"Liberation Sans", sans-serif' font-size="11.6" font-weight="bold" text-anchor="end" fill="#000" >P:8.83%</text>
<rect x="343.5" y="41.3" width="15.6" height="12" fill="#000"/>
<rect x="343.5" y="54.8" width="15.6" height="12.4" fill="#e2282a"/>
<rect x="343.5" y="67.9" width="15.6" height="12.1" fill="#16aa4c"/>
<text x="364.3" y="49.9" font-family='"Liberation Serif", serif' font-size="11.5" font-weight="bold" text-anchor="start" fill="#000" >Control</text>
<text x="364.3" y="65.2" font-family='"Liberation Serif", serif' font-size="11.5" font-weight="bold" text-anchor="start" fill="#000" >NOW</text>
<text x="364" y="79.4" font-family='"Liberation Serif", serif' font-size="11.5" font-weight="bold" text-anchor="start" fill="#000" >PCOS</text>
<text x="346.6" y="119.9" font-family='"Liberation Sans", sans-serif' font-size="17.6" font-weight="bold">CD4<tspan font-size="11" dy="-6">+</tspan><tspan dy="6" dx="4.2">T</tspan></text>
<text x="346.6" y="290.1" font-family='"Liberation Sans", sans-serif' font-size="17.6" font-weight="bold">CD8<tspan font-size="11" dy="-6">+</tspan><tspan dy="6" dx="5.4" font-size="20">T</tspan></text>
<text x="34.6" y="373" font-family='"Liberation Sans", sans-serif' font-size="14.6" font-weight="bold" text-anchor="start" fill="#000" >CD25</text>
<line x1="79" y1="368.3" x2="173" y2="368.3" stroke="#000" stroke-width="3.2" stroke-linecap="butt"/>
<path d="M164.2,362.3 L173.8,368.2 L164.2,374.1" fill="none" stroke="#000" stroke-width="3.4" stroke-linecap="round"/>
<text x="198.1" y="372.9" font-family='"Liberation Sans", sans-serif' font-size="14.6" font-weight="bold" text-anchor="start" fill="#000" >CD69</text>
<line x1="236.7" y1="367.6" x2="331" y2="367.6" stroke="#000" stroke-width="3.2" stroke-linecap="butt"/>
<path d="M321.6,361.8 L331.4,367.6 L321.6,373.5" fill="none" stroke="#000" stroke-width="3.4" stroke-linecap="round"/>
<line x1="498.5" y1="45.8" x2="498.5" y2="179.7" stroke="#000" stroke-width="1.9" stroke-linecap="butt"/>
<line x1="497.6" y1="178.8" x2="682" y2="178.8" stroke="#000" stroke-width="1.9" stroke-linecap="butt"/>
<line x1="494" y1="178.8" x2="498.5" y2="178.8" stroke="#000" stroke-width="1.5" stroke-linecap="butt"/>
<text transform="translate(494.5,182.3) scale(1.0,1)" font-family='"Liberation Sans", sans-serif' font-size="9.5" font-weight="normal" text-anchor="end" stroke="#000" stroke-width="0.3">0</text>
<line x1="494" y1="152.2" x2="498.5" y2="152.2" stroke="#000" stroke-width="1.5" stroke-linecap="butt"/>
<text transform="translate(494.5,155.7) scale(1.0,1)" font-family='"Liberation Sans", sans-serif' font-size="9.5" font-weight="normal" text-anchor="end" stroke="#000" stroke-width="0.3">1</text>
<line x1="494" y1="125.6" x2="498.5" y2="125.6" stroke="#000" stroke-width="1.5" stroke-linecap="butt"/>
<text transform="translate(494.5,129.1) scale(1.0,1)" font-family='"Liberation Sans", sans-serif' font-size="9.5" font-weight="normal" text-anchor="end" stroke="#000" stroke-width="0.3">2</text>
<line x1="494" y1="99" x2="498.5" y2="99" stroke="#000" stroke-width="1.5" stroke-linecap="butt"/>
<text transform="translate(494.5,102.5) scale(1.0,1)" font-family='"Liberation Sans", sans-serif' font-size="9.5" font-weight="normal" text-anchor="end" stroke="#000" stroke-width="0.3">3</text>
<line x1="494" y1="72.4" x2="498.5" y2="72.4" stroke="#000" stroke-width="1.5" stroke-linecap="butt"/>
<text transform="translate(494.5,75.9) scale(1.0,1)" font-family='"Liberation Sans", sans-serif' font-size="9.5" font-weight="normal" text-anchor="end" stroke="#000" stroke-width="0.3">4</text>
<line x1="494" y1="45.8" x2="498.5" y2="45.8" stroke="#000" stroke-width="1.5" stroke-linecap="butt"/>
<text transform="translate(494.5,49.3) scale(1.0,1)" font-family='"Liberation Sans", sans-serif' font-size="9.5" font-weight="normal" text-anchor="end" stroke="#000" stroke-width="0.3">5</text>
<rect x="516.15" y="131.55" width="21.7" height="47.25" fill="#fff" stroke="#000" stroke-width="1.9"/>
<line x1="526.9" y1="122.1" x2="526.9" y2="131.1" stroke="#000" stroke-width="1.9" stroke-linecap="butt"/>
<line x1="521" y1="122.1" x2="532.8" y2="122.1" stroke="#000" stroke-width="2.0" stroke-linecap="round"/>
<rect x="549" y="128" width="24.7" height="50.8" fill="#000"/>
<line x1="561.45" y1="106.4" x2="561.45" y2="128.5" stroke="#000" stroke-width="1.9" stroke-linecap="butt"/>
<line x1="555.8" y1="106.4" x2="567.1" y2="106.4" stroke="#000" stroke-width="2.0" stroke-linecap="round"/>
<rect x="607.25" y="85.75" width="22.6" height="93.05" fill="#fff" stroke="#000" stroke-width="1.9"/>
<line x1="618.8" y1="67.5" x2="618.8" y2="85.3" stroke="#000" stroke-width="1.9" stroke-linecap="butt"/>
<line x1="613.1" y1="67.5" x2="624.5" y2="67.5" stroke="#000" stroke-width="2.0" stroke-linecap="round"/>
<rect x="640.9" y="79.2" width="24.4" height="99.6" fill="#000"/>
<line x1="653.4" y1="68" x2="653.4" y2="79.7" stroke="#000" stroke-width="1.9" stroke-linecap="butt"/>
<line x1="647.8" y1="68" x2="659" y2="68" stroke="#000" stroke-width="2.0" stroke-linecap="round"/>
<line x1="544" y1="178.8" x2="544" y2="183" stroke="#000" stroke-width="1.4" stroke-linecap="butt"/>
<line x1="636" y1="178.8" x2="636" y2="183" stroke="#000" stroke-width="1.4" stroke-linecap="butt"/>
<text x="515.3" y="193.5" font-size="10.2" font-family='"Liberation Sans", sans-serif' font-weight="normal" stroke="#000" stroke-width="0.25">CD4</text>
<text x="535.6" y="188.9" font-size="7.6" font-family='"Liberation Sans", sans-serif' font-weight="normal" stroke="#000" stroke-width="0.25">+</text>
<text x="543.4" y="193.5" font-size="10.9" font-family='"Liberation Sans", sans-serif' font-weight="normal" stroke="#000" stroke-width="0.25">T cells</text>
<text x="607" y="193.5" font-size="10.2" font-family='"Liberation Sans", sans-serif' font-weight="normal" stroke="#000" stroke-width="0.25">CD8</text>
<text x="628.2" y="188.9" font-size="7.6" font-family='"Liberation Sans", sans-serif' font-weight="normal" stroke="#000" stroke-width="0.25">+</text>
<text x="635.3" y="193.5" font-size="10.9" font-family='"Liberation Sans", sans-serif' font-weight="normal" stroke="#000" stroke-width="0.25">T cells</text>
<text transform="translate(483.6,164.6) rotate(-90)" font-family='"Liberation Sans", sans-serif' font-size="13" font-weight="bold">% of CD25<tspan font-size="8.5" dy="-5">+</tspan><tspan dy="5"> cells</tspan></text>
<line x1="526.1" y1="99.8" x2="559.8" y2="99.8" stroke="#000" stroke-width="2.0" stroke-linecap="round"/>
<line x1="620.6" y1="59.4" x2="652.9" y2="59.4" stroke="#000" stroke-width="2.0" stroke-linecap="round"/>
<text x="544.2" y="95.2" font-family='"Liberation Sans", sans-serif' font-size="14.6" font-weight="normal" text-anchor="middle" fill="#000" stroke="#000" stroke-width="0.3">ns</text>
<text x="638" y="54.9" font-family='"Liberation Sans", sans-serif' font-size="14.6" font-weight="normal" text-anchor="middle" fill="#000" stroke="#000" stroke-width="0.3">ns</text>
<rect x="510.2" y="32.9" width="13.6" height="7.3" fill="#fff" stroke="#000" stroke-width="1.8"/>
<rect x="509.3" y="47.2" width="15.4" height="9.1" fill="#000"/>
<text x="530.6" y="40.2" font-family='"Liberation Sans", sans-serif' font-size="10.3" font-weight="normal" text-anchor="start" fill="#000" stroke="#000" stroke-width="0.45">NOW</text>
<text x="530.6" y="55.1" font-family='"Liberation Sans", sans-serif' font-size="10.3" font-weight="normal" text-anchor="start" fill="#000" stroke="#000" stroke-width="0.45">PCOS</text>
<line x1="500.9" y1="235.7" x2="500.9" y2="368" stroke="#000" stroke-width="1.9" stroke-linecap="butt"/>
<line x1="500" y1="367.1" x2="685" y2="367.1" stroke="#000" stroke-width="1.9" stroke-linecap="butt"/>
<line x1="496.4" y1="367.1" x2="500.9" y2="367.1" stroke="#000" stroke-width="1.5" stroke-linecap="butt"/>
<text transform="translate(496.2,370.5) scale(0.9,1)" font-family='"Liberation Sans", sans-serif' font-size="9.6" font-weight="normal" text-anchor="end" stroke="#000" stroke-width="0.3">0</text>
<line x1="496.4" y1="334.25" x2="500.9" y2="334.25" stroke="#000" stroke-width="1.5" stroke-linecap="butt"/>
<text transform="translate(496.2,337.65) scale(0.9,1)" font-family='"Liberation Sans", sans-serif' font-size="9.6" font-weight="normal" text-anchor="end" stroke="#000" stroke-width="0.3">10</text>
<line x1="496.4" y1="301.4" x2="500.9" y2="301.4" stroke="#000" stroke-width="1.5" stroke-linecap="butt"/>
<text transform="translate(496.2,304.8) scale(0.9,1)" font-family='"Liberation Sans", sans-serif' font-size="9.6" font-weight="normal" text-anchor="end" stroke="#000" stroke-width="0.3">20</text>
<line x1="496.4" y1="268.55" x2="500.9" y2="268.55" stroke="#000" stroke-width="1.5" stroke-linecap="butt"/>
<text transform="translate(496.2,271.95) scale(0.9,1)" font-family='"Liberation Sans", sans-serif' font-size="9.6" font-weight="normal" text-anchor="end" stroke="#000" stroke-width="0.3">30</text>
<line x1="496.4" y1="235.7" x2="500.9" y2="235.7" stroke="#000" stroke-width="1.5" stroke-linecap="butt"/>
<text transform="translate(496.2,239.1) scale(0.9,1)" font-family='"Liberation Sans", sans-serif' font-size="9.6" font-weight="normal" text-anchor="end" stroke="#000" stroke-width="0.3">40</text>
<rect x="518.55" y="270.95" width="22.8" height="96.15" fill="#fff" stroke="#000" stroke-width="1.9"/>
<line x1="529.9" y1="254.3" x2="529.9" y2="270.5" stroke="#000" stroke-width="1.9" stroke-linecap="butt"/>
<line x1="524.2" y1="254.3" x2="535.6" y2="254.3" stroke="#000" stroke-width="2.0" stroke-linecap="round"/>
<rect x="551.3" y="325.5" width="24.8" height="41.6" fill="#000"/>
<line x1="563.95" y1="315.3" x2="563.95" y2="326" stroke="#000" stroke-width="1.9" stroke-linecap="butt"/>
<line x1="558.1" y1="315.3" x2="569.8" y2="315.3" stroke="#000" stroke-width="2.0" stroke-linecap="round"/>
<rect x="609.75" y="313.45" width="22.8" height="53.65" fill="#fff" stroke="#000" stroke-width="1.9"/>
<line x1="621.05" y1="300.4" x2="621.05" y2="313" stroke="#000" stroke-width="1.9" stroke-linecap="butt"/>
<line x1="615" y1="300.4" x2="627.1" y2="300.4" stroke="#000" stroke-width="2.0" stroke-linecap="round"/>
<rect x="642.9" y="338.1" width="25.2" height="29" fill="#000"/>
<line x1="655.5" y1="332.8" x2="655.5" y2="338.6" stroke="#000" stroke-width="1.9" stroke-linecap="butt"/>
<line x1="649.6" y1="332.8" x2="661.4" y2="332.8" stroke="#000" stroke-width="2.0" stroke-linecap="round"/>
<line x1="547.1" y1="367.1" x2="547.1" y2="371.3" stroke="#000" stroke-width="1.4" stroke-linecap="butt"/>
<line x1="638" y1="367.1" x2="638" y2="371.3" stroke="#000" stroke-width="1.4" stroke-linecap="butt"/>
<text x="518.2" y="381.9" font-size="10.2" font-family='"Liberation Sans", sans-serif' font-weight="normal" stroke="#000" stroke-width="0.25">CD4</text>
<text x="539.4" y="377.3" font-size="7.6" font-family='"Liberation Sans", sans-serif' font-weight="normal" stroke="#000" stroke-width="0.25">+</text>
<text x="546.6" y="381.9" font-size="10.9" font-family='"Liberation Sans", sans-serif' font-weight="normal" stroke="#000" stroke-width="0.25">T cells</text>
<text x="609.3" y="381.9" font-size="10.2" font-family='"Liberation Sans", sans-serif' font-weight="normal" stroke="#000" stroke-width="0.25">CD8</text>
<text x="630.1" y="377.3" font-size="7.6" font-family='"Liberation Sans", sans-serif' font-weight="normal" stroke="#000" stroke-width="0.25">+</text>
<text x="637.8" y="381.9" font-size="10.9" font-family='"Liberation Sans", sans-serif' font-weight="normal" stroke="#000" stroke-width="0.25">T cells</text>
<text transform="translate(482.2,351) rotate(-90)" font-family='"Liberation Sans", sans-serif' font-size="13" font-weight="bold">% of CD69<tspan font-size="8.5" dy="-5">+</tspan><tspan dy="5"> cells</tspan></text>
<line x1="527.6" y1="243.8" x2="566.2" y2="243.8" stroke="#000" stroke-width="2.2" stroke-linecap="butt"/>
<line x1="527.6" y1="239.15" x2="527.6" y2="248.45" stroke="#000" stroke-width="2.0" stroke-linecap="butt"/>
<line x1="566.2" y1="239.15" x2="566.2" y2="248.45" stroke="#000" stroke-width="2.0" stroke-linecap="butt"/>
<line x1="619.9" y1="291.6" x2="657.5" y2="291.6" stroke="#000" stroke-width="2.2" stroke-linecap="butt"/>
<line x1="619.9" y1="287" x2="619.9" y2="296.2" stroke="#000" stroke-width="2.0" stroke-linecap="butt"/>
<line x1="657.5" y1="287" x2="657.5" y2="296.2" stroke="#000" stroke-width="2.0" stroke-linecap="butt"/>
<text x="547.8" y="245.4" font-family='"Liberation Sans", sans-serif' font-size="20" font-weight="normal" text-anchor="middle" fill="#000" >*</text>
<text x="639.6" y="293.2" font-family='"Liberation Sans", sans-serif' font-size="20" font-weight="normal" text-anchor="middle" fill="#000" >**</text>
</svg></body></html>
